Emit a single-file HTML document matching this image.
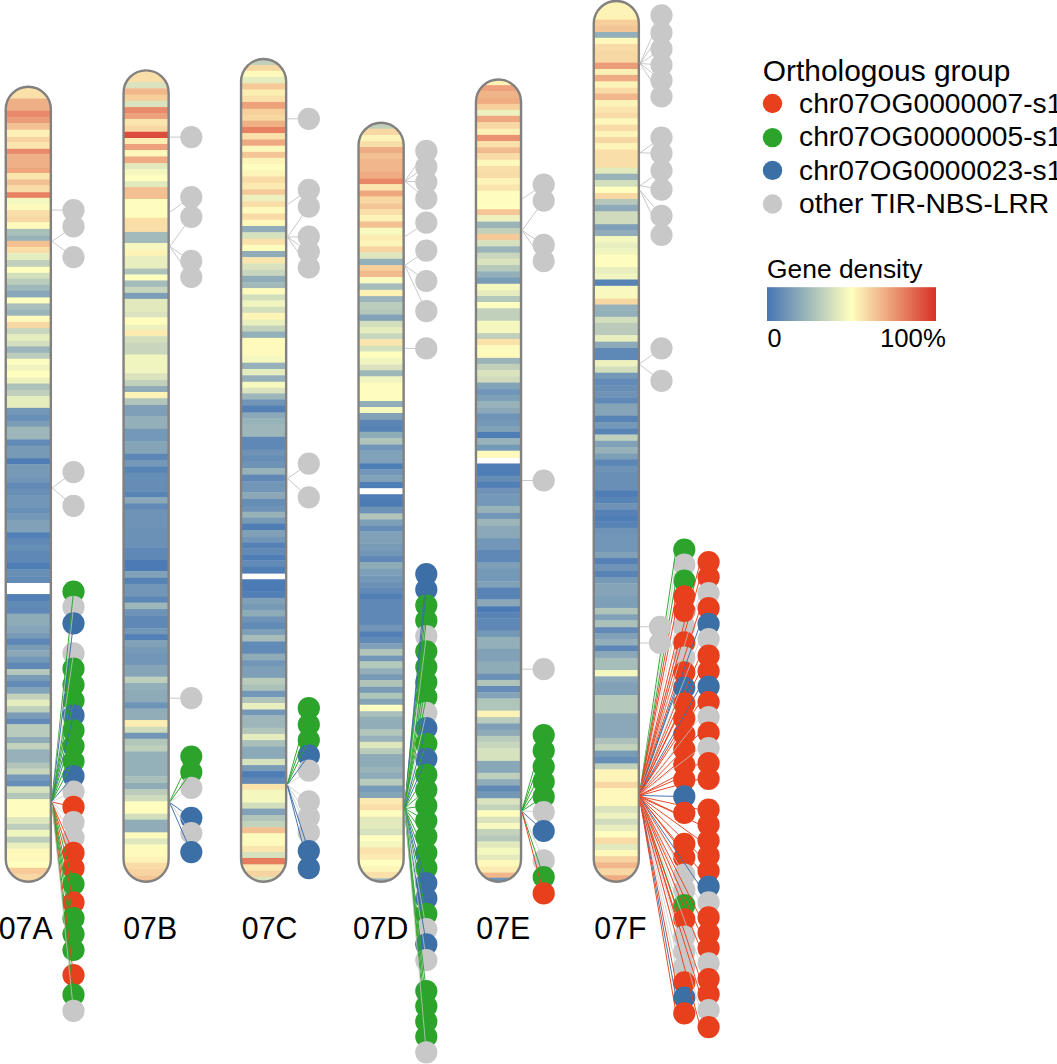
<!DOCTYPE html>
<html><head><meta charset="utf-8"><title>chr07 TIR-NBS-LRR ideogram</title>
<style>
html,body{margin:0;padding:0;background:#fff;}
body{width:1057px;height:1064px;overflow:hidden;position:relative;font-family:"Liberation Sans",sans-serif;}
svg text{font-family:"Liberation Sans",sans-serif;}
</style></head><body>
<svg width="1057" height="1064" viewBox="0 0 1057 1064" style="position:absolute;left:0;top:0">
<defs>
<clipPath id="cpA"><rect x="5.75" y="86.75" width="45.10" height="795.00" rx="22.55" ry="22.55"/></clipPath>
<clipPath id="cpB"><rect x="123.55" y="70.35" width="45.10" height="811.40" rx="22.55" ry="22.55"/></clipPath>
<clipPath id="cpC"><rect x="241.05" y="58.95" width="45.10" height="822.80" rx="22.55" ry="22.55"/></clipPath>
<clipPath id="cpD"><rect x="358.55" y="122.75" width="45.10" height="759.00" rx="22.55" ry="22.55"/></clipPath>
<clipPath id="cpE"><rect x="475.95" y="79.55" width="45.10" height="802.20" rx="22.55" ry="22.55"/></clipPath>
<clipPath id="cpF"><rect x="593.75" y="0.95" width="45.10" height="880.80" rx="22.55" ry="22.55"/></clipPath>
<linearGradient id="gd" x1="0" x2="1" y1="0" y2="0"><stop offset="0" stop-color="#4575b4"/><stop offset="0.5" stop-color="#ffffbf"/><stop offset="1" stop-color="#d73027"/></linearGradient>
</defs>
<g clip-path="url(#cpA)">
<rect x="4.8" y="84.75" width="47.1" height="14.19" fill="#f9e1a9"/>
<rect x="4.8" y="98.54" width="47.1" height="12.32" fill="#f0b085"/>
<rect x="4.8" y="110.46" width="47.1" height="7.21" fill="#e98b6a"/>
<rect x="4.8" y="117.27" width="47.1" height="6.36" fill="#ec9c76"/>
<rect x="4.8" y="123.23" width="47.1" height="6.87" fill="#f3c091"/>
<rect x="4.8" y="129.70" width="47.1" height="7.55" fill="#fcf0b4"/>
<rect x="4.8" y="136.85" width="47.1" height="5.51" fill="#f6d39f"/>
<rect x="4.8" y="141.96" width="47.1" height="7.21" fill="#fae6ad"/>
<rect x="4.8" y="148.77" width="47.1" height="5.85" fill="#e98b6a"/>
<rect x="4.8" y="154.22" width="47.1" height="13.68" fill="#f0b085"/>
<rect x="4.8" y="167.51" width="47.1" height="5.85" fill="#eea67d"/>
<rect x="4.8" y="172.96" width="47.1" height="6.87" fill="#fae6ad"/>
<rect x="4.8" y="179.43" width="47.1" height="6.36" fill="#f3c091"/>
<rect x="4.8" y="185.39" width="47.1" height="7.21" fill="#f8dba5"/>
<rect x="4.8" y="192.20" width="47.1" height="6.02" fill="#e78162"/>
<rect x="4.8" y="197.82" width="47.1" height="6.70" fill="#f4f7be"/>
<rect x="4.8" y="204.12" width="47.1" height="6.36" fill="#fefabb"/>
<rect x="4.8" y="210.08" width="47.1" height="7.21" fill="#f9dfa7"/>
<rect x="4.8" y="216.89" width="47.1" height="5.51" fill="#f7d7a2"/>
<rect x="4.8" y="222.00" width="47.1" height="0.95" fill="#fef8ba"/>
<rect x="4.8" y="222.55" width="47.1" height="6.70" fill="#fefabb"/>
<rect x="4.8" y="228.86" width="47.1" height="6.87" fill="#a9c0ba"/>
<rect x="4.8" y="235.33" width="47.1" height="5.85" fill="#97b2b9"/>
<rect x="4.8" y="240.78" width="47.1" height="6.53" fill="#f3c091"/>
<rect x="4.8" y="246.91" width="47.1" height="6.70" fill="#f9dfa7"/>
<rect x="4.8" y="253.21" width="47.1" height="7.21" fill="#e5ecbd"/>
<rect x="4.8" y="260.02" width="47.1" height="7.21" fill="#c0d0bb"/>
<rect x="4.8" y="266.83" width="47.1" height="6.36" fill="#ffffbf"/>
<rect x="4.8" y="272.79" width="47.1" height="6.36" fill="#d2debc"/>
<rect x="4.8" y="278.75" width="47.1" height="6.36" fill="#bbcdbb"/>
<rect x="4.8" y="284.71" width="47.1" height="6.36" fill="#9fb8b9"/>
<rect x="4.8" y="290.67" width="47.1" height="7.21" fill="#88a7b8"/>
<rect x="4.8" y="297.49" width="47.1" height="6.36" fill="#ffffbf"/>
<rect x="4.8" y="303.45" width="47.1" height="6.36" fill="#a9bfba"/>
<rect x="4.8" y="309.41" width="47.1" height="6.70" fill="#9bb4b9"/>
<rect x="4.8" y="315.71" width="47.1" height="6.53" fill="#fefabb"/>
<rect x="4.8" y="321.84" width="47.1" height="6.70" fill="#f7d7a2"/>
<rect x="4.8" y="328.14" width="47.1" height="6.36" fill="#c7d6bc"/>
<rect x="4.8" y="334.10" width="47.1" height="7.21" fill="#e5ecbd"/>
<rect x="4.8" y="340.91" width="47.1" height="5.85" fill="#d2debc"/>
<rect x="4.8" y="346.36" width="47.1" height="6.87" fill="#9bb4b9"/>
<rect x="4.8" y="352.83" width="47.1" height="6.36" fill="#bccdbb"/>
<rect x="4.8" y="358.79" width="47.1" height="6.36" fill="#fbfcbf"/>
<rect x="4.8" y="364.75" width="47.1" height="6.36" fill="#f0f4be"/>
<rect x="4.8" y="370.72" width="47.1" height="7.21" fill="#ffffbf"/>
<rect x="4.8" y="377.53" width="47.1" height="6.36" fill="#ecf1be"/>
<rect x="4.8" y="383.49" width="47.1" height="6.87" fill="#adc2ba"/>
<rect x="4.8" y="389.96" width="47.1" height="6.40" fill="#bfcfbb"/>
<rect x="4.8" y="395.96" width="47.1" height="12.32" fill="#e5ecbd"/>
<rect x="4.8" y="407.88" width="47.1" height="7.21" fill="#7297b7"/>
<rect x="4.8" y="414.69" width="47.1" height="6.36" fill="#688fb6"/>
<rect x="4.8" y="420.65" width="47.1" height="6.36" fill="#7a9cb7"/>
<rect x="4.8" y="426.61" width="47.1" height="13.17" fill="#9db6b9"/>
<rect x="4.8" y="439.39" width="47.1" height="6.70" fill="#628ab6"/>
<rect x="4.8" y="445.69" width="47.1" height="12.83" fill="#779ab7"/>
<rect x="4.8" y="458.12" width="47.1" height="6.36" fill="#4f7db5"/>
<rect x="4.8" y="464.08" width="47.1" height="13.17" fill="#779ab7"/>
<rect x="4.8" y="476.85" width="47.1" height="6.36" fill="#7196b7"/>
<rect x="4.8" y="482.81" width="47.1" height="6.36" fill="#628ab6"/>
<rect x="4.8" y="488.77" width="47.1" height="6.70" fill="#688fb6"/>
<rect x="4.8" y="495.07" width="47.1" height="12.83" fill="#7196b7"/>
<rect x="4.8" y="507.51" width="47.1" height="6.36" fill="#688fb6"/>
<rect x="4.8" y="513.47" width="47.1" height="6.70" fill="#7498b7"/>
<rect x="4.8" y="519.77" width="47.1" height="12.83" fill="#80a1b7"/>
<rect x="4.8" y="532.20" width="47.1" height="6.70" fill="#527fb5"/>
<rect x="4.8" y="538.50" width="47.1" height="6.53" fill="#5f88b6"/>
<rect x="4.8" y="544.63" width="47.1" height="6.70" fill="#688fb6"/>
<rect x="4.8" y="550.93" width="47.1" height="12.32" fill="#5f88b6"/>
<rect x="4.8" y="562.85" width="47.1" height="6.91" fill="#4f7db5"/>
<rect x="4.8" y="569.37" width="47.1" height="7.21" fill="#688fb6"/>
<rect x="4.8" y="576.18" width="47.1" height="7.21" fill="#628ab6"/>
<rect x="4.8" y="582.99" width="47.1" height="11.47" fill="#ffffff"/>
<rect x="4.8" y="594.06" width="47.1" height="7.21" fill="#527fb5"/>
<rect x="4.8" y="600.87" width="47.1" height="6.36" fill="#628ab6"/>
<rect x="4.8" y="606.83" width="47.1" height="7.21" fill="#5f88b6"/>
<rect x="4.8" y="613.64" width="47.1" height="12.32" fill="#8eabb8"/>
<rect x="4.8" y="625.57" width="47.1" height="7.21" fill="#85a4b8"/>
<rect x="4.8" y="632.38" width="47.1" height="6.70" fill="#779ab7"/>
<rect x="4.8" y="638.68" width="47.1" height="6.53" fill="#5c86b5"/>
<rect x="4.8" y="644.81" width="47.1" height="5.85" fill="#7a9cb7"/>
<rect x="4.8" y="650.26" width="47.1" height="6.87" fill="#8aa8b8"/>
<rect x="4.8" y="656.73" width="47.1" height="6.36" fill="#7498b7"/>
<rect x="4.8" y="662.69" width="47.1" height="6.70" fill="#5f88b6"/>
<rect x="4.8" y="668.99" width="47.1" height="6.36" fill="#b4c8bb"/>
<rect x="4.8" y="674.95" width="47.1" height="6.36" fill="#7a9cb7"/>
<rect x="4.8" y="680.91" width="47.1" height="6.87" fill="#628bb6"/>
<rect x="4.8" y="687.38" width="47.1" height="6.70" fill="#83a3b8"/>
<rect x="4.8" y="693.69" width="47.1" height="6.36" fill="#c2d2bb"/>
<rect x="4.8" y="699.65" width="47.1" height="6.87" fill="#e5ecbd"/>
<rect x="4.8" y="706.12" width="47.1" height="6.70" fill="#becfbb"/>
<rect x="4.8" y="712.42" width="47.1" height="6.36" fill="#7b9db7"/>
<rect x="4.8" y="718.38" width="47.1" height="6.28" fill="#618ab6"/>
<rect x="4.8" y="724.26" width="47.1" height="13.17" fill="#b9cbbb"/>
<rect x="4.8" y="737.03" width="47.1" height="6.36" fill="#8eabb8"/>
<rect x="4.8" y="742.99" width="47.1" height="6.70" fill="#c2d2bb"/>
<rect x="4.8" y="749.29" width="47.1" height="13.68" fill="#96b1b9"/>
<rect x="4.8" y="762.57" width="47.1" height="6.36" fill="#b0c4ba"/>
<rect x="4.8" y="768.54" width="47.1" height="6.36" fill="#c7d6bc"/>
<rect x="4.8" y="774.50" width="47.1" height="6.36" fill="#769ab7"/>
<rect x="4.8" y="780.46" width="47.1" height="6.36" fill="#668eb6"/>
<rect x="4.8" y="786.42" width="47.1" height="6.87" fill="#d6e1bd"/>
<rect x="4.8" y="792.89" width="47.1" height="6.70" fill="#b2c6ba"/>
<rect x="4.8" y="799.19" width="47.1" height="18.28" fill="#fffdbd"/>
<rect x="4.8" y="817.07" width="47.1" height="7.21" fill="#dee6bd"/>
<rect x="4.8" y="823.88" width="47.1" height="6.36" fill="#bccdbb"/>
<rect x="4.8" y="829.84" width="47.1" height="7.21" fill="#f0f4be"/>
<rect x="4.8" y="836.66" width="47.1" height="6.36" fill="#bccdbb"/>
<rect x="4.8" y="842.62" width="47.1" height="6.36" fill="#e9eebe"/>
<rect x="4.8" y="848.58" width="47.1" height="13.17" fill="#fef8ba"/>
<rect x="4.8" y="861.35" width="47.1" height="6.87" fill="#fffdbd"/>
<rect x="4.8" y="867.82" width="47.1" height="6.70" fill="#f5ca98"/>
<rect x="4.8" y="874.12" width="47.1" height="9.63" fill="#f7d7a2"/>
</g>
<rect x="5.75" y="86.75" width="45.10" height="795.00" rx="22.55" ry="22.55" fill="none" stroke="#828180" stroke-width="2.4"/>
<g clip-path="url(#cpB)">
<rect x="122.5" y="68.35" width="47.1" height="14.07" fill="#f9dfa7"/>
<rect x="122.5" y="82.02" width="47.1" height="6.70" fill="#dae3bd"/>
<rect x="122.5" y="88.32" width="47.1" height="6.70" fill="#f1b689"/>
<rect x="122.5" y="94.62" width="47.1" height="6.53" fill="#f6cf9b"/>
<rect x="122.5" y="100.75" width="47.1" height="6.70" fill="#dae3bd"/>
<rect x="122.5" y="107.05" width="47.1" height="6.36" fill="#e98b6a"/>
<rect x="122.5" y="113.01" width="47.1" height="6.36" fill="#eda27b"/>
<rect x="122.5" y="118.97" width="47.1" height="7.21" fill="#fae6ad"/>
<rect x="122.5" y="125.78" width="47.1" height="6.36" fill="#f7d7a2"/>
<rect x="122.5" y="131.74" width="47.1" height="6.70" fill="#dc4c3c"/>
<rect x="122.5" y="138.04" width="47.1" height="6.36" fill="#fceeb2"/>
<rect x="122.5" y="144.01" width="47.1" height="6.53" fill="#eda27b"/>
<rect x="122.5" y="150.14" width="47.1" height="6.70" fill="#fef8ba"/>
<rect x="122.5" y="156.44" width="47.1" height="7.21" fill="#efac82"/>
<rect x="122.5" y="163.25" width="47.1" height="6.36" fill="#e1e9bd"/>
<rect x="122.5" y="169.21" width="47.1" height="6.36" fill="#f4f7be"/>
<rect x="122.5" y="175.17" width="47.1" height="6.36" fill="#ffffbf"/>
<rect x="122.5" y="181.13" width="47.1" height="6.36" fill="#e1e9bd"/>
<rect x="122.5" y="187.09" width="47.1" height="12.32" fill="#f3c091"/>
<rect x="122.5" y="199.01" width="47.1" height="19.13" fill="#fffdbd"/>
<rect x="122.5" y="217.75" width="47.1" height="14.58" fill="#f9dfa7"/>
<rect x="122.5" y="231.92" width="47.1" height="11.47" fill="#a2baba"/>
<rect x="122.5" y="242.99" width="47.1" height="6.70" fill="#f4f7be"/>
<rect x="122.5" y="249.29" width="47.1" height="6.87" fill="#fdf3b6"/>
<rect x="122.5" y="255.76" width="47.1" height="13.17" fill="#e9eebe"/>
<rect x="122.5" y="268.54" width="47.1" height="6.36" fill="#adc2ba"/>
<rect x="122.5" y="274.50" width="47.1" height="6.36" fill="#ffffbf"/>
<rect x="122.5" y="280.46" width="47.1" height="6.70" fill="#a3bbba"/>
<rect x="122.5" y="286.76" width="47.1" height="6.53" fill="#c7d6bc"/>
<rect x="122.5" y="292.89" width="47.1" height="6.36" fill="#7d9eb7"/>
<rect x="122.5" y="298.85" width="47.1" height="13.51" fill="#e1e9bd"/>
<rect x="122.5" y="311.96" width="47.1" height="5.85" fill="#dae3bd"/>
<rect x="122.5" y="317.41" width="47.1" height="7.72" fill="#fffdbd"/>
<rect x="122.5" y="324.73" width="47.1" height="5.51" fill="#ecf1be"/>
<rect x="122.5" y="329.84" width="47.1" height="6.70" fill="#fbebb0"/>
<rect x="122.5" y="336.14" width="47.1" height="6.87" fill="#d2debc"/>
<rect x="122.5" y="342.62" width="47.1" height="12.32" fill="#c7d6bc"/>
<rect x="122.5" y="354.54" width="47.1" height="19.13" fill="#f0f4be"/>
<rect x="122.5" y="373.27" width="47.1" height="7.21" fill="#dae3bd"/>
<rect x="122.5" y="380.08" width="47.1" height="6.36" fill="#c0d0bb"/>
<rect x="122.5" y="386.04" width="47.1" height="6.36" fill="#8facb8"/>
<rect x="122.5" y="392.00" width="47.1" height="0.44" fill="#fefabb"/>
<rect x="122.5" y="392.04" width="47.1" height="6.53" fill="#fdf3b6"/>
<rect x="122.5" y="398.17" width="47.1" height="7.21" fill="#b1c5ba"/>
<rect x="122.5" y="404.99" width="47.1" height="11.81" fill="#7e9fb7"/>
<rect x="122.5" y="416.40" width="47.1" height="12.83" fill="#93afb9"/>
<rect x="122.5" y="428.83" width="47.1" height="12.66" fill="#7498b7"/>
<rect x="122.5" y="441.09" width="47.1" height="13.17" fill="#85a4b8"/>
<rect x="122.5" y="453.86" width="47.1" height="6.36" fill="#5c86b5"/>
<rect x="122.5" y="459.82" width="47.1" height="6.87" fill="#7498b7"/>
<rect x="122.5" y="466.29" width="47.1" height="6.70" fill="#5883b5"/>
<rect x="122.5" y="472.60" width="47.1" height="19.13" fill="#658db6"/>
<rect x="122.5" y="491.33" width="47.1" height="6.36" fill="#5883b5"/>
<rect x="122.5" y="497.29" width="47.1" height="6.36" fill="#8aa8b8"/>
<rect x="122.5" y="503.25" width="47.1" height="6.70" fill="#628ab6"/>
<rect x="122.5" y="509.55" width="47.1" height="19.64" fill="#6e93b6"/>
<rect x="122.5" y="528.79" width="47.1" height="19.13" fill="#6b91b6"/>
<rect x="122.5" y="547.53" width="47.1" height="12.83" fill="#5f88b6"/>
<rect x="122.5" y="559.96" width="47.1" height="11.51" fill="#4c7ab4"/>
<rect x="122.5" y="571.07" width="47.1" height="7.21" fill="#80a1b7"/>
<rect x="122.5" y="577.88" width="47.1" height="6.36" fill="#5581b5"/>
<rect x="122.5" y="583.84" width="47.1" height="13.17" fill="#7196b7"/>
<rect x="122.5" y="596.61" width="47.1" height="6.36" fill="#5c86b5"/>
<rect x="122.5" y="602.57" width="47.1" height="6.87" fill="#9db6b9"/>
<rect x="122.5" y="609.05" width="47.1" height="6.70" fill="#6e93b6"/>
<rect x="122.5" y="615.35" width="47.1" height="13.17" fill="#5f88b6"/>
<rect x="122.5" y="628.12" width="47.1" height="6.36" fill="#7498b7"/>
<rect x="122.5" y="634.08" width="47.1" height="6.36" fill="#527fb5"/>
<rect x="122.5" y="640.04" width="47.1" height="7.21" fill="#80a1b7"/>
<rect x="122.5" y="646.85" width="47.1" height="6.36" fill="#779ab7"/>
<rect x="122.5" y="652.81" width="47.1" height="12.32" fill="#7196b7"/>
<rect x="122.5" y="664.73" width="47.1" height="12.32" fill="#85a4b8"/>
<rect x="122.5" y="676.66" width="47.1" height="6.70" fill="#becfbb"/>
<rect x="122.5" y="682.96" width="47.1" height="6.87" fill="#93afb9"/>
<rect x="122.5" y="689.43" width="47.1" height="13.17" fill="#8daab8"/>
<rect x="122.5" y="702.20" width="47.1" height="6.70" fill="#6d93b6"/>
<rect x="122.5" y="708.50" width="47.1" height="11.98" fill="#90adb8"/>
<rect x="122.5" y="720.08" width="47.1" height="7.13" fill="#fceeb2"/>
<rect x="122.5" y="726.81" width="47.1" height="6.36" fill="#cfdbbc"/>
<rect x="122.5" y="732.77" width="47.1" height="6.36" fill="#7196b7"/>
<rect x="122.5" y="738.73" width="47.1" height="7.21" fill="#b2c6ba"/>
<rect x="122.5" y="745.54" width="47.1" height="6.36" fill="#becfbb"/>
<rect x="122.5" y="751.51" width="47.1" height="25.09" fill="#94b0b9"/>
<rect x="122.5" y="776.20" width="47.1" height="7.21" fill="#a8bfba"/>
<rect x="122.5" y="783.01" width="47.1" height="6.36" fill="#8eabb8"/>
<rect x="122.5" y="788.97" width="47.1" height="6.36" fill="#bbccbb"/>
<rect x="122.5" y="794.93" width="47.1" height="6.87" fill="#cfdbbc"/>
<rect x="122.5" y="801.40" width="47.1" height="12.66" fill="#fffdbd"/>
<rect x="122.5" y="813.66" width="47.1" height="6.36" fill="#d2debc"/>
<rect x="122.5" y="819.63" width="47.1" height="13.17" fill="#8facb8"/>
<rect x="122.5" y="832.40" width="47.1" height="6.36" fill="#fefabb"/>
<rect x="122.5" y="838.36" width="47.1" height="6.36" fill="#dee6bd"/>
<rect x="122.5" y="844.32" width="47.1" height="12.32" fill="#fefabb"/>
<rect x="122.5" y="856.24" width="47.1" height="6.87" fill="#fdf3b6"/>
<rect x="122.5" y="862.71" width="47.1" height="6.70" fill="#f8dba5"/>
<rect x="122.5" y="869.01" width="47.1" height="7.21" fill="#f6d39f"/>
<rect x="122.5" y="875.82" width="47.1" height="7.93" fill="#f4c595"/>
</g>
<rect x="123.55" y="70.35" width="45.10" height="811.40" rx="22.55" ry="22.55" fill="none" stroke="#828180" stroke-width="2.4"/>
<g clip-path="url(#cpC)">
<rect x="240.1" y="56.95" width="47.1" height="8.44" fill="#c0d0bb"/>
<rect x="240.1" y="64.99" width="47.1" height="6.19" fill="#f7d7a2"/>
<rect x="240.1" y="70.78" width="47.1" height="6.53" fill="#fefabb"/>
<rect x="240.1" y="76.91" width="47.1" height="6.70" fill="#e5ecbd"/>
<rect x="240.1" y="83.21" width="47.1" height="6.70" fill="#f5ca98"/>
<rect x="240.1" y="89.51" width="47.1" height="6.87" fill="#fceeb2"/>
<rect x="240.1" y="95.98" width="47.1" height="6.36" fill="#f9e1a9"/>
<rect x="240.1" y="101.94" width="47.1" height="7.21" fill="#eda27b"/>
<rect x="240.1" y="108.75" width="47.1" height="6.36" fill="#f6cf9b"/>
<rect x="240.1" y="114.71" width="47.1" height="6.36" fill="#f7d7a2"/>
<rect x="240.1" y="120.67" width="47.1" height="6.70" fill="#f0b085"/>
<rect x="240.1" y="126.98" width="47.1" height="6.53" fill="#e78162"/>
<rect x="240.1" y="133.11" width="47.1" height="6.70" fill="#f9e1a9"/>
<rect x="240.1" y="139.41" width="47.1" height="6.70" fill="#eea980"/>
<rect x="240.1" y="145.71" width="47.1" height="6.53" fill="#fef8ba"/>
<rect x="240.1" y="151.84" width="47.1" height="6.36" fill="#f4c595"/>
<rect x="240.1" y="157.80" width="47.1" height="6.70" fill="#fdf5b8"/>
<rect x="240.1" y="164.10" width="47.1" height="6.36" fill="#fffdbd"/>
<rect x="240.1" y="170.06" width="47.1" height="6.70" fill="#fdf5b8"/>
<rect x="240.1" y="176.36" width="47.1" height="6.87" fill="#f8dba5"/>
<rect x="240.1" y="182.83" width="47.1" height="6.87" fill="#fbebb0"/>
<rect x="240.1" y="189.31" width="47.1" height="5.85" fill="#f5ca98"/>
<rect x="240.1" y="194.75" width="47.1" height="6.87" fill="#ecf1be"/>
<rect x="240.1" y="201.23" width="47.1" height="6.19" fill="#f9dfa7"/>
<rect x="240.1" y="207.02" width="47.1" height="6.87" fill="#fefabb"/>
<rect x="240.1" y="213.49" width="47.1" height="6.70" fill="#f8dba5"/>
<rect x="240.1" y="219.79" width="47.1" height="6.57" fill="#fef8ba"/>
<rect x="240.1" y="225.96" width="47.1" height="6.70" fill="#8facb8"/>
<rect x="240.1" y="232.26" width="47.1" height="6.87" fill="#d6e1bd"/>
<rect x="240.1" y="238.73" width="47.1" height="6.36" fill="#f9e1a9"/>
<rect x="240.1" y="244.69" width="47.1" height="6.70" fill="#fffdbd"/>
<rect x="240.1" y="250.99" width="47.1" height="6.53" fill="#8facb8"/>
<rect x="240.1" y="257.13" width="47.1" height="6.70" fill="#fae6ad"/>
<rect x="240.1" y="263.43" width="47.1" height="6.70" fill="#dae3bd"/>
<rect x="240.1" y="269.73" width="47.1" height="6.53" fill="#c7d6bc"/>
<rect x="240.1" y="275.86" width="47.1" height="6.70" fill="#8facb8"/>
<rect x="240.1" y="282.16" width="47.1" height="6.36" fill="#a1b9b9"/>
<rect x="240.1" y="288.12" width="47.1" height="6.70" fill="#fefabb"/>
<rect x="240.1" y="294.42" width="47.1" height="6.36" fill="#d2debc"/>
<rect x="240.1" y="300.38" width="47.1" height="6.87" fill="#f0f4be"/>
<rect x="240.1" y="306.85" width="47.1" height="6.36" fill="#d2debc"/>
<rect x="240.1" y="312.81" width="47.1" height="7.21" fill="#fdf5b8"/>
<rect x="240.1" y="319.63" width="47.1" height="6.36" fill="#e9eebe"/>
<rect x="240.1" y="325.59" width="47.1" height="6.36" fill="#c3d3bb"/>
<rect x="240.1" y="331.55" width="47.1" height="6.70" fill="#93afb9"/>
<rect x="240.1" y="337.85" width="47.1" height="18.79" fill="#fefabb"/>
<rect x="240.1" y="356.24" width="47.1" height="6.87" fill="#f4f7be"/>
<rect x="240.1" y="362.71" width="47.1" height="6.70" fill="#96b1b9"/>
<rect x="240.1" y="369.01" width="47.1" height="6.70" fill="#e5ecbd"/>
<rect x="240.1" y="375.31" width="47.1" height="6.87" fill="#95b0b9"/>
<rect x="240.1" y="381.78" width="47.1" height="6.36" fill="#f8f9bf"/>
<rect x="240.1" y="387.75" width="47.1" height="6.06" fill="#dae3bd"/>
<rect x="240.1" y="393.41" width="47.1" height="6.36" fill="#9db6b9"/>
<rect x="240.1" y="399.37" width="47.1" height="6.70" fill="#7095b7"/>
<rect x="240.1" y="405.67" width="47.1" height="7.21" fill="#537fb5"/>
<rect x="240.1" y="412.48" width="47.1" height="6.02" fill="#8aa8b8"/>
<rect x="240.1" y="418.10" width="47.1" height="6.36" fill="#98b2b9"/>
<rect x="240.1" y="424.06" width="47.1" height="13.17" fill="#9db6b9"/>
<rect x="240.1" y="436.83" width="47.1" height="13.17" fill="#5f88b6"/>
<rect x="240.1" y="449.60" width="47.1" height="6.36" fill="#6e93b6"/>
<rect x="240.1" y="455.57" width="47.1" height="6.36" fill="#658db6"/>
<rect x="240.1" y="461.53" width="47.1" height="6.87" fill="#6e93b6"/>
<rect x="240.1" y="468.00" width="47.1" height="7.04" fill="#98b2b9"/>
<rect x="240.1" y="474.64" width="47.1" height="6.87" fill="#5f88b6"/>
<rect x="240.1" y="481.11" width="47.1" height="11.47" fill="#7196b7"/>
<rect x="240.1" y="492.18" width="47.1" height="7.21" fill="#8aa8b8"/>
<rect x="240.1" y="498.99" width="47.1" height="7.21" fill="#658db6"/>
<rect x="240.1" y="505.80" width="47.1" height="6.36" fill="#6e93b6"/>
<rect x="240.1" y="511.76" width="47.1" height="6.36" fill="#98b2b9"/>
<rect x="240.1" y="517.72" width="47.1" height="6.36" fill="#779ab7"/>
<rect x="240.1" y="523.69" width="47.1" height="6.70" fill="#4f7db5"/>
<rect x="240.1" y="529.99" width="47.1" height="6.87" fill="#80a1b7"/>
<rect x="240.1" y="536.46" width="47.1" height="6.36" fill="#7196b7"/>
<rect x="240.1" y="542.42" width="47.1" height="6.36" fill="#5581b5"/>
<rect x="240.1" y="548.38" width="47.1" height="6.36" fill="#628ab6"/>
<rect x="240.1" y="554.34" width="47.1" height="6.36" fill="#4f7db5"/>
<rect x="240.1" y="560.30" width="47.1" height="6.91" fill="#628ab6"/>
<rect x="240.1" y="566.81" width="47.1" height="7.21" fill="#4f7db5"/>
<rect x="240.1" y="573.62" width="47.1" height="6.02" fill="#ffffff"/>
<rect x="240.1" y="579.24" width="47.1" height="12.66" fill="#4c7ab4"/>
<rect x="240.1" y="591.51" width="47.1" height="6.70" fill="#527fb5"/>
<rect x="240.1" y="597.81" width="47.1" height="6.53" fill="#80a1b7"/>
<rect x="240.1" y="603.94" width="47.1" height="6.36" fill="#779ab7"/>
<rect x="240.1" y="609.90" width="47.1" height="6.70" fill="#8eabb8"/>
<rect x="240.1" y="616.20" width="47.1" height="6.87" fill="#6e93b6"/>
<rect x="240.1" y="622.67" width="47.1" height="6.70" fill="#628ab6"/>
<rect x="240.1" y="628.97" width="47.1" height="6.36" fill="#7d9fb7"/>
<rect x="240.1" y="634.93" width="47.1" height="6.87" fill="#a6bdba"/>
<rect x="240.1" y="641.40" width="47.1" height="12.66" fill="#628ab6"/>
<rect x="240.1" y="653.66" width="47.1" height="6.87" fill="#8eabb8"/>
<rect x="240.1" y="660.14" width="47.1" height="6.19" fill="#7196b7"/>
<rect x="240.1" y="665.93" width="47.1" height="12.32" fill="#7d9fb7"/>
<rect x="240.1" y="677.85" width="47.1" height="7.21" fill="#b9cbbb"/>
<rect x="240.1" y="684.66" width="47.1" height="6.53" fill="#abc1ba"/>
<rect x="240.1" y="690.79" width="47.1" height="6.70" fill="#7397b7"/>
<rect x="240.1" y="697.09" width="47.1" height="6.36" fill="#b0c4ba"/>
<rect x="240.1" y="703.05" width="47.1" height="6.87" fill="#e9eebe"/>
<rect x="240.1" y="709.52" width="47.1" height="6.19" fill="#7297b7"/>
<rect x="240.1" y="715.31" width="47.1" height="12.75" fill="#9cb6b9"/>
<rect x="240.1" y="727.66" width="47.1" height="6.70" fill="#b1c5ba"/>
<rect x="240.1" y="733.96" width="47.1" height="6.53" fill="#e5ecbd"/>
<rect x="240.1" y="740.10" width="47.1" height="6.70" fill="#a8bfba"/>
<rect x="240.1" y="746.40" width="47.1" height="12.83" fill="#8ba9b8"/>
<rect x="240.1" y="758.83" width="47.1" height="6.70" fill="#d6e1bd"/>
<rect x="240.1" y="765.13" width="47.1" height="6.36" fill="#799bb7"/>
<rect x="240.1" y="771.09" width="47.1" height="6.87" fill="#4e7cb5"/>
<rect x="240.1" y="777.56" width="47.1" height="6.70" fill="#6089b6"/>
<rect x="240.1" y="783.86" width="47.1" height="6.36" fill="#fae4ab"/>
<rect x="240.1" y="789.82" width="47.1" height="13.17" fill="#f4f7be"/>
<rect x="240.1" y="802.60" width="47.1" height="6.36" fill="#d2debc"/>
<rect x="240.1" y="808.56" width="47.1" height="6.87" fill="#81a1b8"/>
<rect x="240.1" y="815.03" width="47.1" height="6.70" fill="#b1c5ba"/>
<rect x="240.1" y="821.33" width="47.1" height="6.36" fill="#c3d3bb"/>
<rect x="240.1" y="827.29" width="47.1" height="6.36" fill="#f3c091"/>
<rect x="240.1" y="833.25" width="47.1" height="13.17" fill="#fefabb"/>
<rect x="240.1" y="846.02" width="47.1" height="6.36" fill="#fae6ad"/>
<rect x="240.1" y="851.98" width="47.1" height="6.36" fill="#d6e1bd"/>
<rect x="240.1" y="857.94" width="47.1" height="6.87" fill="#e67b5e"/>
<rect x="240.1" y="864.41" width="47.1" height="6.70" fill="#fbe9af"/>
<rect x="240.1" y="870.72" width="47.1" height="6.36" fill="#f6d39f"/>
<rect x="240.1" y="876.68" width="47.1" height="7.07" fill="#dae3bd"/>
</g>
<rect x="241.05" y="58.95" width="45.10" height="822.80" rx="22.55" ry="22.55" fill="none" stroke="#828180" stroke-width="2.4"/>
<g clip-path="url(#cpD)">
<rect x="357.6" y="120.75" width="47.1" height="8.33" fill="#c0d0bb"/>
<rect x="357.6" y="128.68" width="47.1" height="6.87" fill="#f7d7a2"/>
<rect x="357.6" y="135.15" width="47.1" height="6.36" fill="#fdf5b8"/>
<rect x="357.6" y="141.11" width="47.1" height="6.36" fill="#f9dfa7"/>
<rect x="357.6" y="147.07" width="47.1" height="6.36" fill="#efac82"/>
<rect x="357.6" y="153.03" width="47.1" height="6.36" fill="#f3c091"/>
<rect x="357.6" y="158.99" width="47.1" height="13.17" fill="#f1b689"/>
<rect x="357.6" y="171.76" width="47.1" height="7.21" fill="#efac82"/>
<rect x="357.6" y="178.58" width="47.1" height="6.02" fill="#e88666"/>
<rect x="357.6" y="184.20" width="47.1" height="6.70" fill="#fae6ad"/>
<rect x="357.6" y="190.50" width="47.1" height="6.36" fill="#eea67d"/>
<rect x="357.6" y="196.46" width="47.1" height="7.21" fill="#f7d7a2"/>
<rect x="357.6" y="203.27" width="47.1" height="6.36" fill="#f4c595"/>
<rect x="357.6" y="209.23" width="47.1" height="6.36" fill="#f9dfa7"/>
<rect x="357.6" y="215.19" width="47.1" height="6.70" fill="#fdf3b6"/>
<rect x="357.6" y="221.49" width="47.1" height="0.61" fill="#f6d39f"/>
<rect x="357.6" y="221.70" width="47.1" height="6.36" fill="#f3c091"/>
<rect x="357.6" y="227.66" width="47.1" height="7.21" fill="#f8f9bf"/>
<rect x="357.6" y="234.48" width="47.1" height="6.36" fill="#fceeb2"/>
<rect x="357.6" y="240.44" width="47.1" height="6.36" fill="#fdf5b8"/>
<rect x="357.6" y="246.40" width="47.1" height="6.36" fill="#f6d39f"/>
<rect x="357.6" y="252.36" width="47.1" height="6.87" fill="#dee6bd"/>
<rect x="357.6" y="258.83" width="47.1" height="6.70" fill="#93afb9"/>
<rect x="357.6" y="265.13" width="47.1" height="6.02" fill="#f6cf9b"/>
<rect x="357.6" y="270.75" width="47.1" height="6.70" fill="#f2bb8d"/>
<rect x="357.6" y="277.05" width="47.1" height="6.70" fill="#f8f9bf"/>
<rect x="357.6" y="283.35" width="47.1" height="6.87" fill="#a6bdba"/>
<rect x="357.6" y="289.82" width="47.1" height="6.70" fill="#fcf0b4"/>
<rect x="357.6" y="296.12" width="47.1" height="6.53" fill="#9bb4b9"/>
<rect x="357.6" y="302.25" width="47.1" height="6.70" fill="#baccbb"/>
<rect x="357.6" y="308.56" width="47.1" height="6.36" fill="#b3c7bb"/>
<rect x="357.6" y="314.52" width="47.1" height="6.70" fill="#82a2b8"/>
<rect x="357.6" y="320.82" width="47.1" height="6.87" fill="#d2debc"/>
<rect x="357.6" y="327.29" width="47.1" height="6.36" fill="#e5ecbd"/>
<rect x="357.6" y="333.25" width="47.1" height="6.36" fill="#c7d6bc"/>
<rect x="357.6" y="339.21" width="47.1" height="6.87" fill="#fae6ad"/>
<rect x="357.6" y="345.68" width="47.1" height="6.19" fill="#d6e1bd"/>
<rect x="357.6" y="351.47" width="47.1" height="6.87" fill="#fffdbd"/>
<rect x="357.6" y="357.94" width="47.1" height="6.87" fill="#f0f4be"/>
<rect x="357.6" y="364.41" width="47.1" height="6.19" fill="#dae3bd"/>
<rect x="357.6" y="370.20" width="47.1" height="6.53" fill="#9eb7b9"/>
<rect x="357.6" y="376.34" width="47.1" height="6.70" fill="#f0f4be"/>
<rect x="357.6" y="382.64" width="47.1" height="18.83" fill="#fffdbd"/>
<rect x="357.6" y="401.07" width="47.1" height="6.36" fill="#91adb8"/>
<rect x="357.6" y="407.03" width="47.1" height="6.36" fill="#f8f9bf"/>
<rect x="357.6" y="412.99" width="47.1" height="7.21" fill="#82a2b8"/>
<rect x="357.6" y="419.80" width="47.1" height="6.36" fill="#5c86b5"/>
<rect x="357.6" y="425.76" width="47.1" height="6.36" fill="#5581b5"/>
<rect x="357.6" y="431.72" width="47.1" height="6.87" fill="#8eabb8"/>
<rect x="357.6" y="438.19" width="47.1" height="6.70" fill="#b0c4ba"/>
<rect x="357.6" y="444.50" width="47.1" height="6.36" fill="#7196b7"/>
<rect x="357.6" y="450.46" width="47.1" height="13.17" fill="#80a1b7"/>
<rect x="357.6" y="463.23" width="47.1" height="6.36" fill="#4f7db5"/>
<rect x="357.6" y="469.19" width="47.1" height="6.36" fill="#7196b7"/>
<rect x="357.6" y="475.15" width="47.1" height="7.21" fill="#80a1b7"/>
<rect x="357.6" y="481.96" width="47.1" height="6.70" fill="#4f7db5"/>
<rect x="357.6" y="488.26" width="47.1" height="6.36" fill="#ffffff"/>
<rect x="357.6" y="494.22" width="47.1" height="6.87" fill="#4f7db5"/>
<rect x="357.6" y="500.69" width="47.1" height="6.36" fill="#4c7ab4"/>
<rect x="357.6" y="506.66" width="47.1" height="7.21" fill="#6e93b6"/>
<rect x="357.6" y="513.47" width="47.1" height="6.36" fill="#b0c4ba"/>
<rect x="357.6" y="519.43" width="47.1" height="6.36" fill="#7d9fb7"/>
<rect x="357.6" y="525.39" width="47.1" height="6.36" fill="#658db6"/>
<rect x="357.6" y="531.35" width="47.1" height="12.32" fill="#80a1b7"/>
<rect x="357.6" y="543.27" width="47.1" height="7.21" fill="#779ab7"/>
<rect x="357.6" y="550.08" width="47.1" height="6.36" fill="#7196b7"/>
<rect x="357.6" y="556.04" width="47.1" height="6.36" fill="#5f88b6"/>
<rect x="357.6" y="562.00" width="47.1" height="0.44" fill="#80a1b7"/>
<rect x="357.6" y="562.04" width="47.1" height="6.87" fill="#8eabb8"/>
<rect x="357.6" y="568.51" width="47.1" height="7.21" fill="#7d9fb7"/>
<rect x="357.6" y="575.33" width="47.1" height="6.36" fill="#7498b7"/>
<rect x="357.6" y="581.29" width="47.1" height="6.36" fill="#6b91b6"/>
<rect x="357.6" y="587.25" width="47.1" height="6.87" fill="#628ab6"/>
<rect x="357.6" y="593.72" width="47.1" height="6.19" fill="#527fb5"/>
<rect x="357.6" y="599.51" width="47.1" height="25.60" fill="#5f88b6"/>
<rect x="357.6" y="624.71" width="47.1" height="6.87" fill="#7196b7"/>
<rect x="357.6" y="631.19" width="47.1" height="6.19" fill="#527fb5"/>
<rect x="357.6" y="636.98" width="47.1" height="6.53" fill="#628ab6"/>
<rect x="357.6" y="643.11" width="47.1" height="6.19" fill="#7d9fb7"/>
<rect x="357.6" y="648.90" width="47.1" height="7.21" fill="#b0c4ba"/>
<rect x="357.6" y="655.71" width="47.1" height="6.02" fill="#7196b7"/>
<rect x="357.6" y="661.33" width="47.1" height="7.21" fill="#b4c8bb"/>
<rect x="357.6" y="668.14" width="47.1" height="6.36" fill="#93afb9"/>
<rect x="357.6" y="674.10" width="47.1" height="6.36" fill="#779ab7"/>
<rect x="357.6" y="680.06" width="47.1" height="7.21" fill="#b0c4ba"/>
<rect x="357.6" y="686.87" width="47.1" height="6.36" fill="#7a9cb7"/>
<rect x="357.6" y="692.83" width="47.1" height="6.36" fill="#b0c5ba"/>
<rect x="357.6" y="698.79" width="47.1" height="6.36" fill="#85a4b8"/>
<rect x="357.6" y="704.75" width="47.1" height="6.87" fill="#ffffbf"/>
<rect x="357.6" y="711.23" width="47.1" height="5.85" fill="#a8bfba"/>
<rect x="357.6" y="716.68" width="47.1" height="13.09" fill="#90adb8"/>
<rect x="357.6" y="729.37" width="47.1" height="6.70" fill="#b2c6ba"/>
<rect x="357.6" y="735.67" width="47.1" height="6.53" fill="#96b1b9"/>
<rect x="357.6" y="741.80" width="47.1" height="6.70" fill="#dee6bd"/>
<rect x="357.6" y="748.10" width="47.1" height="6.36" fill="#b9cbbb"/>
<rect x="357.6" y="754.06" width="47.1" height="13.17" fill="#8eabb8"/>
<rect x="357.6" y="766.83" width="47.1" height="6.36" fill="#99b4b9"/>
<rect x="357.6" y="772.79" width="47.1" height="6.36" fill="#8eabb8"/>
<rect x="357.6" y="778.75" width="47.1" height="7.21" fill="#b9cbbb"/>
<rect x="357.6" y="785.57" width="47.1" height="6.70" fill="#769ab7"/>
<rect x="357.6" y="791.87" width="47.1" height="6.53" fill="#84a4b8"/>
<rect x="357.6" y="798.00" width="47.1" height="6.70" fill="#fbe9af"/>
<rect x="357.6" y="804.30" width="47.1" height="6.36" fill="#f9dfa7"/>
<rect x="357.6" y="810.26" width="47.1" height="6.87" fill="#fffdbd"/>
<rect x="357.6" y="816.73" width="47.1" height="12.66" fill="#e1e9bd"/>
<rect x="357.6" y="828.99" width="47.1" height="6.70" fill="#d6e1bd"/>
<rect x="357.6" y="835.29" width="47.1" height="6.36" fill="#ffffbf"/>
<rect x="357.6" y="841.25" width="47.1" height="6.53" fill="#f4f7be"/>
<rect x="357.6" y="847.38" width="47.1" height="6.70" fill="#f9e1a9"/>
<rect x="357.6" y="853.69" width="47.1" height="6.36" fill="#fbebb0"/>
<rect x="357.6" y="859.65" width="47.1" height="6.87" fill="#ffffbf"/>
<rect x="357.6" y="866.12" width="47.1" height="6.19" fill="#fdf5b8"/>
<rect x="357.6" y="871.91" width="47.1" height="6.87" fill="#f9e1a9"/>
<rect x="357.6" y="878.38" width="47.1" height="5.37" fill="#9bb4b9"/>
</g>
<rect x="358.55" y="122.75" width="45.10" height="759.00" rx="22.55" ry="22.55" fill="none" stroke="#828180" stroke-width="2.4"/>
<g clip-path="url(#cpE)">
<rect x="474.9" y="77.55" width="47.1" height="8.00" fill="#fdf3b6"/>
<rect x="474.9" y="85.15" width="47.1" height="6.36" fill="#eda27b"/>
<rect x="474.9" y="91.11" width="47.1" height="7.21" fill="#f0b387"/>
<rect x="474.9" y="97.92" width="47.1" height="6.36" fill="#efac82"/>
<rect x="474.9" y="103.88" width="47.1" height="6.36" fill="#f6cf9b"/>
<rect x="474.9" y="109.84" width="47.1" height="6.36" fill="#ecf1be"/>
<rect x="474.9" y="115.80" width="47.1" height="6.87" fill="#eea980"/>
<rect x="474.9" y="122.28" width="47.1" height="6.70" fill="#f7d7a2"/>
<rect x="474.9" y="128.58" width="47.1" height="6.70" fill="#fcf0b4"/>
<rect x="474.9" y="134.88" width="47.1" height="6.53" fill="#ea926f"/>
<rect x="474.9" y="141.01" width="47.1" height="6.70" fill="#f9e1a9"/>
<rect x="474.9" y="147.31" width="47.1" height="6.36" fill="#f2bb8d"/>
<rect x="474.9" y="153.27" width="47.1" height="6.87" fill="#f8dba5"/>
<rect x="474.9" y="159.74" width="47.1" height="6.70" fill="#fef8ba"/>
<rect x="474.9" y="166.04" width="47.1" height="6.06" fill="#f9dfa7"/>
<rect x="474.9" y="171.70" width="47.1" height="6.87" fill="#f8dba5"/>
<rect x="474.9" y="178.17" width="47.1" height="6.70" fill="#fdf3b6"/>
<rect x="474.9" y="184.48" width="47.1" height="6.70" fill="#fae6ad"/>
<rect x="474.9" y="190.78" width="47.1" height="12.83" fill="#fffdbd"/>
<rect x="474.9" y="203.21" width="47.1" height="6.36" fill="#ffffbf"/>
<rect x="474.9" y="209.17" width="47.1" height="6.36" fill="#f4c595"/>
<rect x="474.9" y="215.13" width="47.1" height="6.87" fill="#ecf1be"/>
<rect x="474.9" y="221.60" width="47.1" height="6.70" fill="#9bb4b9"/>
<rect x="474.9" y="227.90" width="47.1" height="6.36" fill="#c0d0bb"/>
<rect x="474.9" y="233.86" width="47.1" height="6.70" fill="#f5ca98"/>
<rect x="474.9" y="240.16" width="47.1" height="6.53" fill="#d6e1bd"/>
<rect x="474.9" y="246.29" width="47.1" height="6.70" fill="#9bb4b9"/>
<rect x="474.9" y="252.60" width="47.1" height="6.36" fill="#c7d6bc"/>
<rect x="474.9" y="258.56" width="47.1" height="6.87" fill="#dae3bd"/>
<rect x="474.9" y="265.03" width="47.1" height="6.70" fill="#b6c9bb"/>
<rect x="474.9" y="271.33" width="47.1" height="6.36" fill="#93afb9"/>
<rect x="474.9" y="277.29" width="47.1" height="6.87" fill="#799cb7"/>
<rect x="474.9" y="283.76" width="47.1" height="6.70" fill="#f4f7be"/>
<rect x="474.9" y="290.06" width="47.1" height="6.36" fill="#e5ecbd"/>
<rect x="474.9" y="296.02" width="47.1" height="6.36" fill="#b4c8bb"/>
<rect x="474.9" y="301.98" width="47.1" height="6.70" fill="#ffffbf"/>
<rect x="474.9" y="308.28" width="47.1" height="12.83" fill="#c0d0bb"/>
<rect x="474.9" y="320.72" width="47.1" height="12.83" fill="#f4f7be"/>
<rect x="474.9" y="333.15" width="47.1" height="6.19" fill="#c0d0bb"/>
<rect x="474.9" y="338.94" width="47.1" height="6.57" fill="#f9e1a9"/>
<rect x="474.9" y="345.11" width="47.1" height="13.17" fill="#fefabb"/>
<rect x="474.9" y="357.88" width="47.1" height="6.36" fill="#9bb4b9"/>
<rect x="474.9" y="363.84" width="47.1" height="6.70" fill="#c0d0bb"/>
<rect x="474.9" y="370.14" width="47.1" height="6.53" fill="#dae3bd"/>
<rect x="474.9" y="376.27" width="47.1" height="6.70" fill="#cfdbbc"/>
<rect x="474.9" y="382.57" width="47.1" height="6.87" fill="#83a3b8"/>
<rect x="474.9" y="389.05" width="47.1" height="6.19" fill="#6f95b7"/>
<rect x="474.9" y="394.84" width="47.1" height="6.53" fill="#7d9fb7"/>
<rect x="474.9" y="400.97" width="47.1" height="6.70" fill="#98b2b9"/>
<rect x="474.9" y="407.27" width="47.1" height="6.36" fill="#8aa8b8"/>
<rect x="474.9" y="413.23" width="47.1" height="6.87" fill="#6e93b6"/>
<rect x="474.9" y="419.70" width="47.1" height="6.70" fill="#7498b7"/>
<rect x="474.9" y="426.00" width="47.1" height="6.36" fill="#80a1b7"/>
<rect x="474.9" y="431.96" width="47.1" height="6.70" fill="#4f7db5"/>
<rect x="474.9" y="438.26" width="47.1" height="6.87" fill="#98b2b9"/>
<rect x="474.9" y="444.73" width="47.1" height="6.36" fill="#7498b7"/>
<rect x="474.9" y="450.69" width="47.1" height="7.55" fill="#fefabb"/>
<rect x="474.9" y="457.85" width="47.1" height="6.02" fill="#ffffff"/>
<rect x="474.9" y="463.47" width="47.1" height="12.66" fill="#4f7db5"/>
<rect x="474.9" y="475.73" width="47.1" height="6.53" fill="#658db6"/>
<rect x="474.9" y="481.86" width="47.1" height="6.36" fill="#527fb5"/>
<rect x="474.9" y="487.82" width="47.1" height="6.70" fill="#6e93b6"/>
<rect x="474.9" y="494.12" width="47.1" height="12.32" fill="#7498b7"/>
<rect x="474.9" y="506.04" width="47.1" height="7.21" fill="#98b2b9"/>
<rect x="474.9" y="512.85" width="47.1" height="0.61" fill="#7196b7"/>
<rect x="474.9" y="513.07" width="47.1" height="6.19" fill="#7196b7"/>
<rect x="474.9" y="518.86" width="47.1" height="6.87" fill="#9db6b9"/>
<rect x="474.9" y="525.33" width="47.1" height="13.17" fill="#8aa8b8"/>
<rect x="474.9" y="538.10" width="47.1" height="12.32" fill="#7196b7"/>
<rect x="474.9" y="550.02" width="47.1" height="12.83" fill="#5f88b6"/>
<rect x="474.9" y="562.45" width="47.1" height="6.70" fill="#7d9fb7"/>
<rect x="474.9" y="568.75" width="47.1" height="12.83" fill="#7498b7"/>
<rect x="474.9" y="581.19" width="47.1" height="6.70" fill="#80a1b7"/>
<rect x="474.9" y="587.49" width="47.1" height="12.32" fill="#5883b5"/>
<rect x="474.9" y="599.41" width="47.1" height="7.21" fill="#8aa8b8"/>
<rect x="474.9" y="606.22" width="47.1" height="6.36" fill="#4c7ab4"/>
<rect x="474.9" y="612.18" width="47.1" height="6.36" fill="#5883b5"/>
<rect x="474.9" y="618.14" width="47.1" height="12.83" fill="#5f88b6"/>
<rect x="474.9" y="630.57" width="47.1" height="6.70" fill="#7498b7"/>
<rect x="474.9" y="636.87" width="47.1" height="12.32" fill="#93afb9"/>
<rect x="474.9" y="648.79" width="47.1" height="13.17" fill="#80a1b7"/>
<rect x="474.9" y="661.57" width="47.1" height="12.66" fill="#8eabb8"/>
<rect x="474.9" y="673.83" width="47.1" height="6.53" fill="#6b91b6"/>
<rect x="474.9" y="679.96" width="47.1" height="6.40" fill="#b0c4ba"/>
<rect x="474.9" y="685.96" width="47.1" height="6.70" fill="#648cb6"/>
<rect x="474.9" y="692.26" width="47.1" height="6.53" fill="#84a3b8"/>
<rect x="474.9" y="698.39" width="47.1" height="12.66" fill="#b0c5ba"/>
<rect x="474.9" y="710.65" width="47.1" height="6.87" fill="#fdf3b6"/>
<rect x="474.9" y="717.13" width="47.1" height="6.70" fill="#baccbb"/>
<rect x="474.9" y="723.43" width="47.1" height="6.70" fill="#7fa0b7"/>
<rect x="474.9" y="729.73" width="47.1" height="6.53" fill="#8eabb8"/>
<rect x="474.9" y="735.86" width="47.1" height="6.70" fill="#b9cbbb"/>
<rect x="474.9" y="742.16" width="47.1" height="6.36" fill="#c7d6bc"/>
<rect x="474.9" y="748.12" width="47.1" height="13.17" fill="#d6e1bd"/>
<rect x="474.9" y="760.89" width="47.1" height="12.32" fill="#88a7b8"/>
<rect x="474.9" y="772.81" width="47.1" height="6.70" fill="#becfbb"/>
<rect x="474.9" y="779.11" width="47.1" height="6.87" fill="#8facb8"/>
<rect x="474.9" y="785.59" width="47.1" height="6.36" fill="#6089b6"/>
<rect x="474.9" y="791.55" width="47.1" height="7.21" fill="#7397b7"/>
<rect x="474.9" y="798.36" width="47.1" height="6.36" fill="#dae3bd"/>
<rect x="474.9" y="804.32" width="47.1" height="6.36" fill="#c3d3bb"/>
<rect x="474.9" y="810.28" width="47.1" height="6.87" fill="#fffdbd"/>
<rect x="474.9" y="816.75" width="47.1" height="6.70" fill="#dae3bd"/>
<rect x="474.9" y="823.05" width="47.1" height="6.36" fill="#f8f9bf"/>
<rect x="474.9" y="829.01" width="47.1" height="6.70" fill="#c3d3bb"/>
<rect x="474.9" y="835.31" width="47.1" height="6.53" fill="#b5c8bb"/>
<rect x="474.9" y="841.44" width="47.1" height="6.70" fill="#e1e9bd"/>
<rect x="474.9" y="847.75" width="47.1" height="7.55" fill="#f4f7be"/>
<rect x="474.9" y="854.90" width="47.1" height="5.52" fill="#e1e9bd"/>
<rect x="474.9" y="860.01" width="47.1" height="7.04" fill="#fef8ba"/>
<rect x="474.9" y="866.66" width="47.1" height="6.36" fill="#fbebb0"/>
<rect x="474.9" y="872.62" width="47.1" height="5.51" fill="#f1b689"/>
<rect x="474.9" y="877.72" width="47.1" height="6.03" fill="#6a91b6"/>
</g>
<rect x="475.95" y="79.55" width="45.10" height="802.20" rx="22.55" ry="22.55" fill="none" stroke="#828180" stroke-width="2.4"/>
<g clip-path="url(#cpF)">
<rect x="592.8" y="-1.05" width="47.1" height="21.03" fill="#fdf3b6"/>
<rect x="592.8" y="19.58" width="47.1" height="6.36" fill="#f6cf9b"/>
<rect x="592.8" y="25.54" width="47.1" height="6.87" fill="#f4c595"/>
<rect x="592.8" y="32.02" width="47.1" height="6.19" fill="#93afb9"/>
<rect x="592.8" y="37.81" width="47.1" height="6.53" fill="#fef8ba"/>
<rect x="592.8" y="43.94" width="47.1" height="6.70" fill="#f8dba5"/>
<rect x="592.8" y="50.24" width="47.1" height="12.83" fill="#f7d7a2"/>
<rect x="592.8" y="62.67" width="47.1" height="6.70" fill="#ec9c76"/>
<rect x="592.8" y="68.97" width="47.1" height="6.36" fill="#fcf0b4"/>
<rect x="592.8" y="74.93" width="47.1" height="6.87" fill="#efac82"/>
<rect x="592.8" y="81.40" width="47.1" height="6.70" fill="#fdf3b6"/>
<rect x="592.8" y="87.70" width="47.1" height="6.36" fill="#f8dba5"/>
<rect x="592.8" y="93.66" width="47.1" height="6.87" fill="#f1b689"/>
<rect x="592.8" y="100.14" width="47.1" height="6.70" fill="#fdf3b6"/>
<rect x="592.8" y="106.44" width="47.1" height="6.36" fill="#fae6ad"/>
<rect x="592.8" y="112.40" width="47.1" height="6.36" fill="#f8dba5"/>
<rect x="592.8" y="118.36" width="47.1" height="6.70" fill="#fef8ba"/>
<rect x="592.8" y="124.66" width="47.1" height="6.87" fill="#f8dba5"/>
<rect x="592.8" y="131.13" width="47.1" height="6.36" fill="#fdf5b8"/>
<rect x="592.8" y="137.09" width="47.1" height="6.36" fill="#f7d7a2"/>
<rect x="592.8" y="143.05" width="47.1" height="6.87" fill="#fdf3b6"/>
<rect x="592.8" y="149.52" width="47.1" height="18.62" fill="#f9dfa7"/>
<rect x="592.8" y="167.75" width="47.1" height="6.36" fill="#e1e9bd"/>
<rect x="592.8" y="173.71" width="47.1" height="6.91" fill="#97b2b9"/>
<rect x="592.8" y="180.22" width="47.1" height="6.87" fill="#d2debc"/>
<rect x="592.8" y="186.69" width="47.1" height="6.70" fill="#ffffbf"/>
<rect x="592.8" y="192.99" width="47.1" height="6.36" fill="#f7d7a2"/>
<rect x="592.8" y="198.95" width="47.1" height="6.36" fill="#b4c7bb"/>
<rect x="592.8" y="204.91" width="47.1" height="6.87" fill="#8caab8"/>
<rect x="592.8" y="211.38" width="47.1" height="13.17" fill="#cfdbbc"/>
<rect x="592.8" y="224.16" width="47.1" height="6.19" fill="#7e9fb7"/>
<rect x="592.8" y="229.95" width="47.1" height="6.53" fill="#8facb8"/>
<rect x="592.8" y="236.08" width="47.1" height="6.70" fill="#f4f7be"/>
<rect x="592.8" y="242.38" width="47.1" height="6.36" fill="#e9eebe"/>
<rect x="592.8" y="248.34" width="47.1" height="6.70" fill="#f0f4be"/>
<rect x="592.8" y="254.64" width="47.1" height="12.83" fill="#fffdbd"/>
<rect x="592.8" y="267.07" width="47.1" height="6.87" fill="#e9eebe"/>
<rect x="592.8" y="273.54" width="47.1" height="6.36" fill="#f0f4be"/>
<rect x="592.8" y="279.50" width="47.1" height="6.70" fill="#5883b5"/>
<rect x="592.8" y="285.80" width="47.1" height="13.17" fill="#f8f9bf"/>
<rect x="592.8" y="298.58" width="47.1" height="6.36" fill="#f7d7a2"/>
<rect x="592.8" y="304.54" width="47.1" height="6.36" fill="#96b1b9"/>
<rect x="592.8" y="310.50" width="47.1" height="6.70" fill="#93afb9"/>
<rect x="592.8" y="316.80" width="47.1" height="6.53" fill="#d2debc"/>
<rect x="592.8" y="322.93" width="47.1" height="12.66" fill="#bacbbb"/>
<rect x="592.8" y="335.19" width="47.1" height="6.87" fill="#e9eebe"/>
<rect x="592.8" y="341.66" width="47.1" height="0.78" fill="#83a3b8"/>
<rect x="592.8" y="342.04" width="47.1" height="6.36" fill="#8ba9b8"/>
<rect x="592.8" y="348.00" width="47.1" height="12.49" fill="#5e88b5"/>
<rect x="592.8" y="360.10" width="47.1" height="6.70" fill="#ecf1be"/>
<rect x="592.8" y="366.40" width="47.1" height="6.70" fill="#d2debc"/>
<rect x="592.8" y="372.70" width="47.1" height="6.53" fill="#7498b7"/>
<rect x="592.8" y="378.83" width="47.1" height="6.70" fill="#628ab6"/>
<rect x="592.8" y="385.13" width="47.1" height="6.36" fill="#688fb6"/>
<rect x="592.8" y="391.09" width="47.1" height="6.70" fill="#6e93b6"/>
<rect x="592.8" y="397.39" width="47.1" height="6.53" fill="#5f88b6"/>
<rect x="592.8" y="403.52" width="47.1" height="12.66" fill="#85a4b8"/>
<rect x="592.8" y="415.78" width="47.1" height="6.70" fill="#5883b5"/>
<rect x="592.8" y="422.08" width="47.1" height="6.53" fill="#7498b7"/>
<rect x="592.8" y="428.22" width="47.1" height="6.70" fill="#5883b5"/>
<rect x="592.8" y="434.52" width="47.1" height="6.70" fill="#becfbb"/>
<rect x="592.8" y="440.82" width="47.1" height="6.53" fill="#80a1b7"/>
<rect x="592.8" y="446.95" width="47.1" height="6.70" fill="#98b2b9"/>
<rect x="592.8" y="453.25" width="47.1" height="6.36" fill="#7d9fb7"/>
<rect x="592.8" y="459.21" width="47.1" height="6.87" fill="#5c86b5"/>
<rect x="592.8" y="465.68" width="47.1" height="6.70" fill="#6e93b6"/>
<rect x="592.8" y="471.98" width="47.1" height="19.13" fill="#688fb6"/>
<rect x="592.8" y="490.72" width="47.1" height="6.36" fill="#4f7db5"/>
<rect x="592.8" y="496.68" width="47.1" height="6.87" fill="#5883b5"/>
<rect x="592.8" y="503.15" width="47.1" height="6.70" fill="#6e93b6"/>
<rect x="592.8" y="509.45" width="47.1" height="6.06" fill="#5581b5"/>
<rect x="592.8" y="515.11" width="47.1" height="6.36" fill="#4f7db5"/>
<rect x="592.8" y="521.07" width="47.1" height="7.21" fill="#5883b5"/>
<rect x="592.8" y="527.88" width="47.1" height="6.36" fill="#6e93b6"/>
<rect x="592.8" y="533.84" width="47.1" height="18.28" fill="#7196b7"/>
<rect x="592.8" y="551.72" width="47.1" height="6.70" fill="#80a1b7"/>
<rect x="592.8" y="558.02" width="47.1" height="6.87" fill="#5581b5"/>
<rect x="592.8" y="564.50" width="47.1" height="6.87" fill="#6e93b6"/>
<rect x="592.8" y="570.97" width="47.1" height="6.36" fill="#5883b5"/>
<rect x="592.8" y="576.93" width="47.1" height="6.70" fill="#779ab7"/>
<rect x="592.8" y="583.23" width="47.1" height="13.17" fill="#85a4b8"/>
<rect x="592.8" y="596.00" width="47.1" height="12.32" fill="#7d9fb7"/>
<rect x="592.8" y="607.92" width="47.1" height="6.70" fill="#b0c4ba"/>
<rect x="592.8" y="614.22" width="47.1" height="6.53" fill="#80a1b7"/>
<rect x="592.8" y="620.35" width="47.1" height="7.21" fill="#abc1ba"/>
<rect x="592.8" y="627.17" width="47.1" height="6.19" fill="#628ab6"/>
<rect x="592.8" y="632.96" width="47.1" height="6.87" fill="#80a1b7"/>
<rect x="592.8" y="639.43" width="47.1" height="6.36" fill="#93afb9"/>
<rect x="592.8" y="645.39" width="47.1" height="6.36" fill="#5c86b5"/>
<rect x="592.8" y="651.35" width="47.1" height="6.87" fill="#8aa8b8"/>
<rect x="592.8" y="657.82" width="47.1" height="12.66" fill="#a6bdba"/>
<rect x="592.8" y="670.08" width="47.1" height="6.70" fill="#f4f7be"/>
<rect x="592.8" y="676.38" width="47.1" height="6.36" fill="#8ba9b8"/>
<rect x="592.8" y="682.34" width="47.1" height="0.61" fill="#7397b7"/>
<rect x="592.8" y="682.55" width="47.1" height="12.83" fill="#80a1b7"/>
<rect x="592.8" y="694.99" width="47.1" height="18.62" fill="#b4c8bb"/>
<rect x="592.8" y="713.21" width="47.1" height="25.09" fill="#8aa8b8"/>
<rect x="592.8" y="737.90" width="47.1" height="6.87" fill="#abc1ba"/>
<rect x="592.8" y="744.37" width="47.1" height="6.70" fill="#c2d2bb"/>
<rect x="592.8" y="750.67" width="47.1" height="6.70" fill="#789bb7"/>
<rect x="592.8" y="756.98" width="47.1" height="6.87" fill="#668db6"/>
<rect x="592.8" y="763.45" width="47.1" height="6.36" fill="#c0d0bb"/>
<rect x="592.8" y="769.41" width="47.1" height="12.83" fill="#fdf5b8"/>
<rect x="592.8" y="781.84" width="47.1" height="6.70" fill="#f7d7a2"/>
<rect x="592.8" y="788.14" width="47.1" height="18.28" fill="#fef8ba"/>
<rect x="592.8" y="806.02" width="47.1" height="7.21" fill="#dae3bd"/>
<rect x="592.8" y="812.83" width="47.1" height="6.36" fill="#ecf1be"/>
<rect x="592.8" y="818.79" width="47.1" height="6.36" fill="#cfdbbc"/>
<rect x="592.8" y="824.75" width="47.1" height="6.87" fill="#e9eebe"/>
<rect x="592.8" y="831.23" width="47.1" height="6.70" fill="#fffdbd"/>
<rect x="592.8" y="837.53" width="47.1" height="6.70" fill="#f8dba5"/>
<rect x="592.8" y="843.83" width="47.1" height="6.53" fill="#e1e9bd"/>
<rect x="592.8" y="849.96" width="47.1" height="6.70" fill="#fef8ba"/>
<rect x="592.8" y="856.26" width="47.1" height="0.58" fill="#f6d39f"/>
<rect x="592.8" y="856.44" width="47.1" height="6.36" fill="#f6d39f"/>
<rect x="592.8" y="862.40" width="47.1" height="6.36" fill="#f1b689"/>
<rect x="592.8" y="868.36" width="47.1" height="7.21" fill="#f7d7a2"/>
<rect x="592.8" y="875.17" width="47.1" height="8.58" fill="#efac82"/>
</g>
<rect x="593.75" y="0.95" width="45.10" height="880.80" rx="22.55" ry="22.55" fill="none" stroke="#828180" stroke-width="2.4"/>
<line x1="52.0" y1="210.1" x2="73.5" y2="210.1" stroke="#bababa" stroke-width="0.8"/>
<line x1="52.0" y1="241.3" x2="73.5" y2="226.4" stroke="#bababa" stroke-width="0.8"/>
<line x1="52.0" y1="241.3" x2="73.5" y2="257.1" stroke="#bababa" stroke-width="0.8"/>
<line x1="52.0" y1="488.0" x2="73.5" y2="472.1" stroke="#bababa" stroke-width="0.8"/>
<line x1="52.0" y1="488.0" x2="73.5" y2="505.8" stroke="#bababa" stroke-width="0.8"/>
<circle cx="73.5" cy="210.1" r="11.1" fill="#c8c8c8"/>
<circle cx="73.5" cy="226.4" r="11.1" fill="#c8c8c8"/>
<circle cx="73.5" cy="257.1" r="11.1" fill="#c8c8c8"/>
<circle cx="73.5" cy="472.1" r="11.1" fill="#c8c8c8"/>
<circle cx="73.5" cy="505.8" r="11.1" fill="#c8c8c8"/>
<circle cx="73.5" cy="591.6" r="11.1" fill="#2ca42c"/>
<circle cx="73.5" cy="606.9" r="11.1" fill="#c8c8c8"/>
<circle cx="73.5" cy="623.3" r="11.1" fill="#3b6fa6"/>
<circle cx="73.5" cy="653.4" r="11.1" fill="#c8c8c8"/>
<circle cx="73.5" cy="668.7" r="11.1" fill="#2ca42c"/>
<circle cx="73.5" cy="684.8" r="11.1" fill="#2ca42c"/>
<circle cx="73.5" cy="700.6" r="11.1" fill="#2ca42c"/>
<circle cx="73.5" cy="715.4" r="11.1" fill="#3b6fa6"/>
<circle cx="73.5" cy="730.4" r="11.1" fill="#2ca42c"/>
<circle cx="73.5" cy="746.0" r="11.1" fill="#2ca42c"/>
<circle cx="73.5" cy="761.4" r="11.1" fill="#2ca42c"/>
<circle cx="73.5" cy="776.1" r="11.1" fill="#3b6fa6"/>
<circle cx="73.5" cy="791.5" r="11.1" fill="#c8c8c8"/>
<circle cx="73.5" cy="806.9" r="11.1" fill="#e8401c"/>
<circle cx="73.5" cy="822.2" r="11.1" fill="#c8c8c8"/>
<circle cx="73.5" cy="837.5" r="11.1" fill="#c8c8c8"/>
<circle cx="73.5" cy="852.9" r="11.1" fill="#e8401c"/>
<circle cx="73.5" cy="868.2" r="11.1" fill="#e8401c"/>
<circle cx="73.5" cy="884.1" r="11.1" fill="#2ca42c"/>
<circle cx="73.5" cy="902.3" r="11.1" fill="#e8401c"/>
<circle cx="73.5" cy="918.2" r="11.1" fill="#2ca42c"/>
<circle cx="73.5" cy="934.1" r="11.1" fill="#2ca42c"/>
<circle cx="73.5" cy="950.0" r="11.1" fill="#2ca42c"/>
<circle cx="73.5" cy="975.0" r="11.1" fill="#e8401c"/>
<circle cx="73.5" cy="994.7" r="11.1" fill="#2ca42c"/>
<circle cx="73.5" cy="1010.9" r="11.1" fill="#c8c8c8"/>
<line x1="52.0" y1="799.0" x2="73.5" y2="591.6" stroke="#2ca42c" stroke-width="0.95"/>
<line x1="52.0" y1="799.5" x2="73.5" y2="606.9" stroke="#c8c8c8" stroke-width="0.75"/>
<line x1="52.0" y1="799.5" x2="73.5" y2="623.3" stroke="#3b6fa6" stroke-width="0.95"/>
<line x1="52.0" y1="800.0" x2="73.5" y2="653.4" stroke="#c8c8c8" stroke-width="0.75"/>
<line x1="52.0" y1="800.0" x2="73.5" y2="668.7" stroke="#2ca42c" stroke-width="0.95"/>
<line x1="52.0" y1="800.0" x2="73.5" y2="684.8" stroke="#2ca42c" stroke-width="0.95"/>
<line x1="52.0" y1="800.0" x2="73.5" y2="700.6" stroke="#2ca42c" stroke-width="0.95"/>
<line x1="52.0" y1="800.5" x2="73.5" y2="715.4" stroke="#3b6fa6" stroke-width="0.95"/>
<line x1="52.0" y1="800.5" x2="73.5" y2="730.4" stroke="#2ca42c" stroke-width="0.95"/>
<line x1="52.0" y1="801.0" x2="73.5" y2="746.0" stroke="#2ca42c" stroke-width="0.95"/>
<line x1="52.0" y1="801.0" x2="73.5" y2="761.4" stroke="#2ca42c" stroke-width="0.95"/>
<line x1="52.0" y1="801.0" x2="73.5" y2="776.1" stroke="#3b6fa6" stroke-width="0.95"/>
<line x1="52.0" y1="801.5" x2="73.5" y2="791.5" stroke="#c8c8c8" stroke-width="0.75"/>
<line x1="52.0" y1="802.0" x2="73.5" y2="806.9" stroke="#e8401c" stroke-width="0.95"/>
<line x1="52.0" y1="802.0" x2="73.5" y2="822.2" stroke="#c8c8c8" stroke-width="0.75"/>
<line x1="52.0" y1="802.5" x2="73.5" y2="837.5" stroke="#c8c8c8" stroke-width="0.75"/>
<line x1="52.0" y1="803.0" x2="73.5" y2="852.9" stroke="#e8401c" stroke-width="0.95"/>
<line x1="52.0" y1="803.0" x2="73.5" y2="868.2" stroke="#e8401c" stroke-width="0.95"/>
<line x1="52.0" y1="803.0" x2="73.5" y2="884.1" stroke="#2ca42c" stroke-width="0.95"/>
<line x1="52.0" y1="803.5" x2="73.5" y2="902.3" stroke="#e8401c" stroke-width="0.95"/>
<line x1="52.0" y1="803.5" x2="73.5" y2="918.2" stroke="#2ca42c" stroke-width="0.95"/>
<line x1="52.0" y1="804.0" x2="73.5" y2="934.1" stroke="#2ca42c" stroke-width="0.95"/>
<line x1="52.0" y1="804.0" x2="73.5" y2="950.0" stroke="#2ca42c" stroke-width="0.95"/>
<line x1="52.0" y1="804.0" x2="73.5" y2="975.0" stroke="#e8401c" stroke-width="0.95"/>
<line x1="52.0" y1="804.0" x2="73.5" y2="994.7" stroke="#2ca42c" stroke-width="0.95"/>
<line x1="52.0" y1="804.5" x2="73.5" y2="1010.9" stroke="#c8c8c8" stroke-width="0.75"/>
<line x1="169.8" y1="137.1" x2="191.3" y2="137.1" stroke="#bababa" stroke-width="0.8"/>
<line x1="169.8" y1="212.1" x2="191.3" y2="197.1" stroke="#bababa" stroke-width="0.8"/>
<line x1="169.8" y1="246.6" x2="191.3" y2="216.8" stroke="#bababa" stroke-width="0.8"/>
<line x1="169.8" y1="246.6" x2="191.3" y2="260.9" stroke="#bababa" stroke-width="0.8"/>
<line x1="169.8" y1="246.6" x2="191.3" y2="277.0" stroke="#bababa" stroke-width="0.8"/>
<line x1="169.8" y1="698.2" x2="191.3" y2="698.2" stroke="#bababa" stroke-width="0.8"/>
<circle cx="191.3" cy="137.1" r="11.1" fill="#c8c8c8"/>
<circle cx="191.3" cy="197.1" r="11.1" fill="#c8c8c8"/>
<circle cx="191.3" cy="216.8" r="11.1" fill="#c8c8c8"/>
<circle cx="191.3" cy="260.9" r="11.1" fill="#c8c8c8"/>
<circle cx="191.3" cy="277.0" r="11.1" fill="#c8c8c8"/>
<circle cx="191.3" cy="698.2" r="11.1" fill="#c8c8c8"/>
<circle cx="191.3" cy="756.6" r="11.1" fill="#2ca42c"/>
<circle cx="191.3" cy="772.1" r="11.1" fill="#2ca42c"/>
<circle cx="191.3" cy="787.9" r="11.1" fill="#c8c8c8"/>
<circle cx="191.3" cy="817.9" r="11.1" fill="#3b6fa6"/>
<circle cx="191.3" cy="833.0" r="11.1" fill="#c8c8c8"/>
<circle cx="191.3" cy="852.1" r="11.1" fill="#3b6fa6"/>
<line x1="169.8" y1="801.5" x2="191.3" y2="756.6" stroke="#2ca42c" stroke-width="0.95"/>
<line x1="169.8" y1="802.0" x2="191.3" y2="772.1" stroke="#2ca42c" stroke-width="0.95"/>
<line x1="169.8" y1="802.0" x2="191.3" y2="787.9" stroke="#c8c8c8" stroke-width="0.75"/>
<line x1="169.8" y1="802.5" x2="191.3" y2="817.9" stroke="#3b6fa6" stroke-width="0.95"/>
<line x1="169.8" y1="802.5" x2="191.3" y2="833.0" stroke="#c8c8c8" stroke-width="0.75"/>
<line x1="169.8" y1="803.0" x2="191.3" y2="852.1" stroke="#3b6fa6" stroke-width="0.95"/>
<line x1="287.5" y1="118.8" x2="308.8" y2="118.8" stroke="#bababa" stroke-width="0.8"/>
<line x1="287.5" y1="204.5" x2="308.8" y2="189.8" stroke="#bababa" stroke-width="0.8"/>
<line x1="287.5" y1="237.1" x2="308.8" y2="206.6" stroke="#bababa" stroke-width="0.8"/>
<line x1="287.5" y1="237.1" x2="308.8" y2="236.6" stroke="#bababa" stroke-width="0.8"/>
<line x1="287.5" y1="237.1" x2="308.8" y2="251.8" stroke="#bababa" stroke-width="0.8"/>
<line x1="287.5" y1="237.1" x2="308.8" y2="267.5" stroke="#bababa" stroke-width="0.8"/>
<line x1="287.5" y1="478.6" x2="308.8" y2="463.6" stroke="#bababa" stroke-width="0.8"/>
<line x1="287.5" y1="478.6" x2="308.8" y2="497.3" stroke="#bababa" stroke-width="0.8"/>
<circle cx="308.8" cy="118.8" r="11.1" fill="#c8c8c8"/>
<circle cx="308.8" cy="189.8" r="11.1" fill="#c8c8c8"/>
<circle cx="308.8" cy="206.6" r="11.1" fill="#c8c8c8"/>
<circle cx="308.8" cy="236.6" r="11.1" fill="#c8c8c8"/>
<circle cx="308.8" cy="251.8" r="11.1" fill="#c8c8c8"/>
<circle cx="308.8" cy="267.5" r="11.1" fill="#c8c8c8"/>
<circle cx="308.8" cy="463.6" r="11.1" fill="#c8c8c8"/>
<circle cx="308.8" cy="497.3" r="11.1" fill="#c8c8c8"/>
<circle cx="308.8" cy="708.2" r="11.1" fill="#2ca42c"/>
<circle cx="308.8" cy="724.5" r="11.1" fill="#2ca42c"/>
<circle cx="308.8" cy="740.1" r="11.1" fill="#2ca42c"/>
<circle cx="308.8" cy="755.4" r="11.1" fill="#3b6fa6"/>
<circle cx="308.8" cy="770.7" r="11.1" fill="#c8c8c8"/>
<circle cx="308.8" cy="801.4" r="11.1" fill="#c8c8c8"/>
<circle cx="308.8" cy="817.1" r="11.1" fill="#c8c8c8"/>
<circle cx="308.8" cy="832.4" r="11.1" fill="#c8c8c8"/>
<circle cx="308.8" cy="851.1" r="11.1" fill="#3b6fa6"/>
<circle cx="308.8" cy="868.2" r="11.1" fill="#3b6fa6"/>
<line x1="287.5" y1="783.5" x2="308.8" y2="708.2" stroke="#2ca42c" stroke-width="0.95"/>
<line x1="287.5" y1="784.0" x2="308.8" y2="724.5" stroke="#2ca42c" stroke-width="0.95"/>
<line x1="287.5" y1="784.0" x2="308.8" y2="740.1" stroke="#2ca42c" stroke-width="0.95"/>
<line x1="287.5" y1="784.5" x2="308.8" y2="755.4" stroke="#3b6fa6" stroke-width="0.95"/>
<line x1="287.5" y1="784.5" x2="308.8" y2="770.7" stroke="#c8c8c8" stroke-width="0.75"/>
<line x1="287.5" y1="785.0" x2="308.8" y2="801.4" stroke="#c8c8c8" stroke-width="0.75"/>
<line x1="287.5" y1="785.0" x2="308.8" y2="817.1" stroke="#c8c8c8" stroke-width="0.75"/>
<line x1="287.5" y1="785.5" x2="308.8" y2="832.4" stroke="#c8c8c8" stroke-width="0.75"/>
<line x1="287.5" y1="785.5" x2="308.8" y2="851.1" stroke="#3b6fa6" stroke-width="0.95"/>
<line x1="287.5" y1="786.0" x2="308.8" y2="868.2" stroke="#3b6fa6" stroke-width="0.95"/>
<line x1="404.8" y1="181.2" x2="426.3" y2="150.9" stroke="#bababa" stroke-width="0.8"/>
<line x1="404.8" y1="181.2" x2="426.3" y2="166.7" stroke="#bababa" stroke-width="0.8"/>
<line x1="404.8" y1="181.2" x2="426.3" y2="182.1" stroke="#bababa" stroke-width="0.8"/>
<line x1="404.8" y1="181.2" x2="426.3" y2="198.6" stroke="#bababa" stroke-width="0.8"/>
<line x1="404.8" y1="236.7" x2="426.3" y2="222.6" stroke="#bababa" stroke-width="0.8"/>
<line x1="404.8" y1="265.5" x2="426.3" y2="250.6" stroke="#bababa" stroke-width="0.8"/>
<line x1="404.8" y1="265.5" x2="426.3" y2="281.0" stroke="#bababa" stroke-width="0.8"/>
<line x1="404.8" y1="265.5" x2="426.3" y2="311.2" stroke="#bababa" stroke-width="0.8"/>
<line x1="404.8" y1="348.4" x2="426.3" y2="348.4" stroke="#bababa" stroke-width="0.8"/>
<circle cx="426.3" cy="150.9" r="11.1" fill="#c8c8c8"/>
<circle cx="426.3" cy="166.7" r="11.1" fill="#c8c8c8"/>
<circle cx="426.3" cy="182.1" r="11.1" fill="#c8c8c8"/>
<circle cx="426.3" cy="198.6" r="11.1" fill="#c8c8c8"/>
<circle cx="426.3" cy="222.6" r="11.1" fill="#c8c8c8"/>
<circle cx="426.3" cy="250.6" r="11.1" fill="#c8c8c8"/>
<circle cx="426.3" cy="281.0" r="11.1" fill="#c8c8c8"/>
<circle cx="426.3" cy="311.2" r="11.1" fill="#c8c8c8"/>
<circle cx="426.3" cy="348.4" r="11.1" fill="#c8c8c8"/>
<circle cx="426.3" cy="574.1" r="11.1" fill="#3b6fa6"/>
<circle cx="426.3" cy="589.5" r="11.1" fill="#3b6fa6"/>
<circle cx="426.3" cy="605.3" r="11.1" fill="#2ca42c"/>
<circle cx="426.3" cy="620.4" r="11.1" fill="#2ca42c"/>
<circle cx="426.3" cy="636.2" r="11.1" fill="#c8c8c8"/>
<circle cx="426.3" cy="651.3" r="11.1" fill="#2ca42c"/>
<circle cx="426.3" cy="667.1" r="11.1" fill="#2ca42c"/>
<circle cx="426.3" cy="682.2" r="11.1" fill="#2ca42c"/>
<circle cx="426.3" cy="697.1" r="11.1" fill="#2ca42c"/>
<circle cx="426.3" cy="712.9" r="11.1" fill="#c8c8c8"/>
<circle cx="426.3" cy="728.0" r="11.1" fill="#3b6fa6"/>
<circle cx="426.3" cy="743.8" r="11.1" fill="#2ca42c"/>
<circle cx="426.3" cy="758.9" r="11.1" fill="#3b6fa6"/>
<circle cx="426.3" cy="774.7" r="11.1" fill="#2ca42c"/>
<circle cx="426.3" cy="789.9" r="11.1" fill="#2ca42c"/>
<circle cx="426.3" cy="805.7" r="11.1" fill="#2ca42c"/>
<circle cx="426.3" cy="820.8" r="11.1" fill="#2ca42c"/>
<circle cx="426.3" cy="836.3" r="11.1" fill="#2ca42c"/>
<circle cx="426.3" cy="852.8" r="11.1" fill="#2ca42c"/>
<circle cx="426.3" cy="867.9" r="11.1" fill="#2ca42c"/>
<circle cx="426.3" cy="883.0" r="11.1" fill="#3b6fa6"/>
<circle cx="426.3" cy="898.4" r="11.1" fill="#3b6fa6"/>
<circle cx="426.3" cy="913.9" r="11.1" fill="#2ca42c"/>
<circle cx="426.3" cy="929.1" r="11.1" fill="#c8c8c8"/>
<circle cx="426.3" cy="944.3" r="11.1" fill="#3b6fa6"/>
<circle cx="426.3" cy="960.2" r="11.1" fill="#c8c8c8"/>
<circle cx="426.3" cy="991.1" r="11.1" fill="#2ca42c"/>
<circle cx="426.3" cy="1006.2" r="11.1" fill="#2ca42c"/>
<circle cx="426.3" cy="1021.4" r="11.1" fill="#2ca42c"/>
<circle cx="426.3" cy="1036.5" r="11.1" fill="#2ca42c"/>
<circle cx="426.3" cy="1052.3" r="11.1" fill="#c8c8c8"/>
<line x1="404.8" y1="806.0" x2="426.3" y2="574.1" stroke="#3b6fa6" stroke-width="0.95"/>
<line x1="404.8" y1="806.0" x2="426.3" y2="589.5" stroke="#3b6fa6" stroke-width="0.95"/>
<line x1="404.8" y1="806.0" x2="426.3" y2="605.3" stroke="#2ca42c" stroke-width="0.95"/>
<line x1="404.8" y1="806.5" x2="426.3" y2="620.4" stroke="#2ca42c" stroke-width="0.95"/>
<line x1="404.8" y1="806.5" x2="426.3" y2="636.2" stroke="#c8c8c8" stroke-width="0.75"/>
<line x1="404.8" y1="806.5" x2="426.3" y2="651.3" stroke="#2ca42c" stroke-width="0.95"/>
<line x1="404.8" y1="807.0" x2="426.3" y2="667.1" stroke="#2ca42c" stroke-width="0.95"/>
<line x1="404.8" y1="807.0" x2="426.3" y2="682.2" stroke="#2ca42c" stroke-width="0.95"/>
<line x1="404.8" y1="807.0" x2="426.3" y2="697.1" stroke="#2ca42c" stroke-width="0.95"/>
<line x1="404.8" y1="807.5" x2="426.3" y2="712.9" stroke="#c8c8c8" stroke-width="0.75"/>
<line x1="404.8" y1="807.5" x2="426.3" y2="728.0" stroke="#3b6fa6" stroke-width="0.95"/>
<line x1="404.8" y1="807.5" x2="426.3" y2="743.8" stroke="#2ca42c" stroke-width="0.95"/>
<line x1="404.8" y1="808.0" x2="426.3" y2="758.9" stroke="#3b6fa6" stroke-width="0.95"/>
<line x1="404.8" y1="808.0" x2="426.3" y2="774.7" stroke="#2ca42c" stroke-width="0.95"/>
<line x1="404.8" y1="808.0" x2="426.3" y2="789.9" stroke="#2ca42c" stroke-width="0.95"/>
<line x1="404.8" y1="808.5" x2="426.3" y2="805.7" stroke="#2ca42c" stroke-width="0.95"/>
<line x1="404.8" y1="808.5" x2="426.3" y2="820.8" stroke="#2ca42c" stroke-width="0.95"/>
<line x1="404.8" y1="808.5" x2="426.3" y2="836.3" stroke="#2ca42c" stroke-width="0.95"/>
<line x1="404.8" y1="809.0" x2="426.3" y2="852.8" stroke="#2ca42c" stroke-width="0.95"/>
<line x1="404.8" y1="809.0" x2="426.3" y2="867.9" stroke="#2ca42c" stroke-width="0.95"/>
<line x1="404.8" y1="809.0" x2="426.3" y2="883.0" stroke="#3b6fa6" stroke-width="0.95"/>
<line x1="404.8" y1="809.5" x2="426.3" y2="898.4" stroke="#3b6fa6" stroke-width="0.95"/>
<line x1="404.8" y1="809.5" x2="426.3" y2="913.9" stroke="#2ca42c" stroke-width="0.95"/>
<line x1="404.8" y1="809.5" x2="426.3" y2="929.1" stroke="#c8c8c8" stroke-width="0.75"/>
<line x1="404.8" y1="810.0" x2="426.3" y2="944.3" stroke="#3b6fa6" stroke-width="0.95"/>
<line x1="404.8" y1="810.0" x2="426.3" y2="960.2" stroke="#c8c8c8" stroke-width="0.75"/>
<line x1="404.8" y1="810.0" x2="426.3" y2="991.1" stroke="#2ca42c" stroke-width="0.95"/>
<line x1="404.8" y1="810.5" x2="426.3" y2="1006.2" stroke="#2ca42c" stroke-width="0.95"/>
<line x1="404.8" y1="810.5" x2="426.3" y2="1021.4" stroke="#2ca42c" stroke-width="0.95"/>
<line x1="404.8" y1="810.5" x2="426.3" y2="1036.5" stroke="#2ca42c" stroke-width="0.95"/>
<line x1="404.8" y1="811.0" x2="426.3" y2="1052.3" stroke="#c8c8c8" stroke-width="0.75"/>
<line x1="522.0" y1="199.0" x2="543.7" y2="184.5" stroke="#bababa" stroke-width="0.8"/>
<line x1="522.0" y1="230.5" x2="543.7" y2="200.7" stroke="#bababa" stroke-width="0.8"/>
<line x1="522.0" y1="230.5" x2="543.7" y2="244.9" stroke="#bababa" stroke-width="0.8"/>
<line x1="522.0" y1="230.5" x2="543.7" y2="261.1" stroke="#bababa" stroke-width="0.8"/>
<line x1="522.0" y1="480.5" x2="543.7" y2="480.5" stroke="#bababa" stroke-width="0.8"/>
<line x1="522.0" y1="669.2" x2="543.7" y2="669.2" stroke="#bababa" stroke-width="0.8"/>
<circle cx="543.7" cy="184.5" r="11.1" fill="#c8c8c8"/>
<circle cx="543.7" cy="200.7" r="11.1" fill="#c8c8c8"/>
<circle cx="543.7" cy="244.9" r="11.1" fill="#c8c8c8"/>
<circle cx="543.7" cy="261.1" r="11.1" fill="#c8c8c8"/>
<circle cx="543.7" cy="480.5" r="11.1" fill="#c8c8c8"/>
<circle cx="543.7" cy="669.2" r="11.1" fill="#c8c8c8"/>
<circle cx="543.7" cy="735.0" r="11.1" fill="#2ca42c"/>
<circle cx="543.7" cy="750.7" r="11.1" fill="#2ca42c"/>
<circle cx="543.7" cy="766.5" r="11.1" fill="#2ca42c"/>
<circle cx="543.7" cy="781.7" r="11.1" fill="#2ca42c"/>
<circle cx="543.7" cy="796.7" r="11.1" fill="#2ca42c"/>
<circle cx="543.7" cy="812.0" r="11.1" fill="#c8c8c8"/>
<circle cx="543.7" cy="831.0" r="11.1" fill="#3b6fa6"/>
<circle cx="543.7" cy="860.4" r="11.1" fill="#c8c8c8"/>
<circle cx="543.7" cy="877.0" r="11.1" fill="#2ca42c"/>
<circle cx="543.7" cy="893.4" r="11.1" fill="#e8401c"/>
<line x1="522.0" y1="810.0" x2="543.7" y2="735.0" stroke="#2ca42c" stroke-width="0.95"/>
<line x1="522.0" y1="810.5" x2="543.7" y2="750.7" stroke="#2ca42c" stroke-width="0.95"/>
<line x1="522.0" y1="810.5" x2="543.7" y2="766.5" stroke="#2ca42c" stroke-width="0.95"/>
<line x1="522.0" y1="811.0" x2="543.7" y2="781.7" stroke="#2ca42c" stroke-width="0.95"/>
<line x1="522.0" y1="811.0" x2="543.7" y2="796.7" stroke="#2ca42c" stroke-width="0.95"/>
<line x1="522.0" y1="811.0" x2="543.7" y2="812.0" stroke="#c8c8c8" stroke-width="0.75"/>
<line x1="522.0" y1="811.5" x2="543.7" y2="831.0" stroke="#3b6fa6" stroke-width="0.95"/>
<line x1="522.0" y1="811.5" x2="543.7" y2="860.4" stroke="#c8c8c8" stroke-width="0.75"/>
<line x1="522.0" y1="812.0" x2="543.7" y2="877.0" stroke="#2ca42c" stroke-width="0.95"/>
<line x1="522.0" y1="812.0" x2="543.7" y2="893.4" stroke="#e8401c" stroke-width="0.95"/>
<line x1="640.0" y1="63.5" x2="661.5" y2="15.3" stroke="#bababa" stroke-width="0.8"/>
<line x1="640.0" y1="63.5" x2="661.5" y2="32.7" stroke="#bababa" stroke-width="0.8"/>
<line x1="640.0" y1="63.5" x2="661.5" y2="49.1" stroke="#bababa" stroke-width="0.8"/>
<line x1="640.0" y1="63.5" x2="661.5" y2="65.0" stroke="#bababa" stroke-width="0.8"/>
<line x1="640.0" y1="63.5" x2="661.5" y2="80.4" stroke="#bababa" stroke-width="0.8"/>
<line x1="640.0" y1="63.5" x2="661.5" y2="96.5" stroke="#bababa" stroke-width="0.8"/>
<line x1="640.0" y1="152.8" x2="661.5" y2="137.6" stroke="#bababa" stroke-width="0.8"/>
<line x1="640.0" y1="152.8" x2="661.5" y2="153.4" stroke="#bababa" stroke-width="0.8"/>
<line x1="640.0" y1="185.7" x2="661.5" y2="170.5" stroke="#bababa" stroke-width="0.8"/>
<line x1="640.0" y1="185.7" x2="661.5" y2="189.6" stroke="#bababa" stroke-width="0.8"/>
<line x1="640.0" y1="190.3" x2="661.5" y2="215.9" stroke="#bababa" stroke-width="0.8"/>
<line x1="640.0" y1="190.3" x2="661.5" y2="235.0" stroke="#bababa" stroke-width="0.8"/>
<line x1="640.0" y1="363.5" x2="661.5" y2="348.3" stroke="#bababa" stroke-width="0.8"/>
<line x1="640.0" y1="365.0" x2="661.5" y2="380.9" stroke="#bababa" stroke-width="0.8"/>
<line x1="640.0" y1="626.8" x2="660.0" y2="626.8" stroke="#bababa" stroke-width="0.8"/>
<line x1="640.0" y1="643.0" x2="660.0" y2="643.0" stroke="#bababa" stroke-width="0.8"/>
<circle cx="661.5" cy="15.3" r="11.1" fill="#c8c8c8"/>
<circle cx="661.5" cy="32.7" r="11.1" fill="#c8c8c8"/>
<circle cx="661.5" cy="49.1" r="11.1" fill="#c8c8c8"/>
<circle cx="661.5" cy="65.0" r="11.1" fill="#c8c8c8"/>
<circle cx="661.5" cy="80.4" r="11.1" fill="#c8c8c8"/>
<circle cx="661.5" cy="96.5" r="11.1" fill="#c8c8c8"/>
<circle cx="661.5" cy="137.6" r="11.1" fill="#c8c8c8"/>
<circle cx="661.5" cy="153.4" r="11.1" fill="#c8c8c8"/>
<circle cx="661.5" cy="170.5" r="11.1" fill="#c8c8c8"/>
<circle cx="661.5" cy="189.6" r="11.1" fill="#c8c8c8"/>
<circle cx="661.5" cy="215.9" r="11.1" fill="#c8c8c8"/>
<circle cx="661.5" cy="235.0" r="11.1" fill="#c8c8c8"/>
<circle cx="661.5" cy="348.3" r="11.1" fill="#c8c8c8"/>
<circle cx="661.5" cy="380.9" r="11.1" fill="#c8c8c8"/>
<circle cx="684.3" cy="549.6" r="11.1" fill="#2ca42c"/>
<circle cx="684.3" cy="564.7" r="11.1" fill="#c8c8c8"/>
<circle cx="684.3" cy="580.5" r="11.1" fill="#2ca42c"/>
<circle cx="684.3" cy="596.3" r="11.1" fill="#e8401c"/>
<circle cx="684.3" cy="626.6" r="11.1" fill="#c8c8c8"/>
<circle cx="684.3" cy="610.8" r="11.1" fill="#e8401c"/>
<circle cx="684.3" cy="642.4" r="11.1" fill="#e8401c"/>
<circle cx="684.3" cy="657.5" r="11.1" fill="#c8c8c8"/>
<circle cx="684.3" cy="672.4" r="11.1" fill="#e8401c"/>
<circle cx="684.3" cy="687.5" r="11.1" fill="#3b6fa6"/>
<circle cx="684.3" cy="703.3" r="11.1" fill="#e8401c"/>
<circle cx="684.3" cy="718.4" r="11.1" fill="#e8401c"/>
<circle cx="684.3" cy="734.2" r="11.1" fill="#e8401c"/>
<circle cx="684.3" cy="749.3" r="11.1" fill="#e8401c"/>
<circle cx="684.3" cy="764.5" r="11.1" fill="#e8401c"/>
<circle cx="684.3" cy="779.6" r="11.1" fill="#e8401c"/>
<circle cx="684.3" cy="796.4" r="11.1" fill="#3b6fa6"/>
<circle cx="684.3" cy="812.9" r="11.1" fill="#e8401c"/>
<circle cx="684.3" cy="843.8" r="11.1" fill="#e8401c"/>
<circle cx="684.3" cy="857.6" r="11.1" fill="#e8401c"/>
<circle cx="684.3" cy="874.7" r="11.1" fill="#c8c8c8"/>
<circle cx="684.3" cy="889.9" r="11.1" fill="#c8c8c8"/>
<circle cx="684.3" cy="905.0" r="11.1" fill="#2ca42c"/>
<circle cx="684.3" cy="919.3" r="11.1" fill="#e8401c"/>
<circle cx="684.3" cy="936.5" r="11.1" fill="#c8c8c8"/>
<circle cx="684.3" cy="951.5" r="11.1" fill="#c8c8c8"/>
<circle cx="684.3" cy="967.0" r="11.1" fill="#c8c8c8"/>
<circle cx="684.3" cy="982.4" r="11.1" fill="#e8401c"/>
<circle cx="684.3" cy="997.5" r="11.1" fill="#3b6fa6"/>
<circle cx="684.3" cy="1013.3" r="11.1" fill="#e8401c"/>
<circle cx="708.6" cy="562.1" r="11.1" fill="#e8401c"/>
<circle cx="708.6" cy="577.2" r="11.1" fill="#e8401c"/>
<circle cx="708.6" cy="593.0" r="11.1" fill="#c8c8c8"/>
<circle cx="708.6" cy="608.2" r="11.1" fill="#e8401c"/>
<circle cx="708.6" cy="623.9" r="11.1" fill="#3b6fa6"/>
<circle cx="708.6" cy="639.1" r="11.1" fill="#c8c8c8"/>
<circle cx="708.6" cy="655.7" r="11.1" fill="#e8401c"/>
<circle cx="708.6" cy="671.0" r="11.1" fill="#e8401c"/>
<circle cx="708.6" cy="686.6" r="11.1" fill="#3b6fa6"/>
<circle cx="708.6" cy="702.0" r="11.1" fill="#e8401c"/>
<circle cx="708.6" cy="717.1" r="11.1" fill="#c8c8c8"/>
<circle cx="708.6" cy="732.6" r="11.1" fill="#e8401c"/>
<circle cx="708.6" cy="748.0" r="11.1" fill="#c8c8c8"/>
<circle cx="708.6" cy="763.2" r="11.1" fill="#e8401c"/>
<circle cx="708.6" cy="778.8" r="11.1" fill="#e8401c"/>
<circle cx="708.6" cy="809.6" r="11.1" fill="#e8401c"/>
<circle cx="708.6" cy="824.7" r="11.1" fill="#e8401c"/>
<circle cx="708.6" cy="840.5" r="11.1" fill="#e8401c"/>
<circle cx="708.6" cy="855.7" r="11.1" fill="#e8401c"/>
<circle cx="708.6" cy="870.8" r="11.1" fill="#e8401c"/>
<circle cx="708.6" cy="886.6" r="11.1" fill="#3b6fa6"/>
<circle cx="708.6" cy="902.4" r="11.1" fill="#c8c8c8"/>
<circle cx="708.6" cy="917.4" r="11.1" fill="#e8401c"/>
<circle cx="708.6" cy="933.0" r="11.1" fill="#e8401c"/>
<circle cx="708.6" cy="948.2" r="11.1" fill="#e8401c"/>
<circle cx="708.6" cy="963.3" r="11.1" fill="#c8c8c8"/>
<circle cx="708.6" cy="979.1" r="11.1" fill="#e8401c"/>
<circle cx="708.6" cy="994.2" r="11.1" fill="#e8401c"/>
<circle cx="708.6" cy="1010.0" r="11.1" fill="#c8c8c8"/>
<circle cx="708.6" cy="1027.1" r="11.1" fill="#e8401c"/>
<line x1="640.0" y1="791.0" x2="676.0" y2="549.6" stroke="#2ca42c" stroke-width="0.95"/>
<line x1="640.0" y1="791.0" x2="676.0" y2="564.7" stroke="#c8c8c8" stroke-width="0.75"/>
<line x1="640.0" y1="791.5" x2="676.0" y2="580.5" stroke="#2ca42c" stroke-width="0.95"/>
<line x1="640.0" y1="791.5" x2="676.0" y2="596.3" stroke="#e8401c" stroke-width="0.95"/>
<line x1="640.0" y1="792.0" x2="676.0" y2="626.6" stroke="#c8c8c8" stroke-width="0.75"/>
<line x1="640.0" y1="792.0" x2="676.0" y2="610.8" stroke="#e8401c" stroke-width="0.95"/>
<line x1="640.0" y1="792.5" x2="676.0" y2="642.4" stroke="#e8401c" stroke-width="0.95"/>
<line x1="640.0" y1="792.5" x2="676.0" y2="657.5" stroke="#c8c8c8" stroke-width="0.75"/>
<line x1="640.0" y1="793.0" x2="676.0" y2="672.4" stroke="#e8401c" stroke-width="0.95"/>
<line x1="640.0" y1="793.0" x2="676.0" y2="687.5" stroke="#3b6fa6" stroke-width="0.95"/>
<line x1="640.0" y1="793.5" x2="676.0" y2="703.3" stroke="#e8401c" stroke-width="0.95"/>
<line x1="640.0" y1="793.5" x2="676.0" y2="718.4" stroke="#e8401c" stroke-width="0.95"/>
<line x1="640.0" y1="794.0" x2="676.0" y2="734.2" stroke="#e8401c" stroke-width="0.95"/>
<line x1="640.0" y1="794.0" x2="676.0" y2="749.3" stroke="#e8401c" stroke-width="0.95"/>
<line x1="640.0" y1="794.5" x2="676.0" y2="764.5" stroke="#e8401c" stroke-width="0.95"/>
<line x1="640.0" y1="795.0" x2="676.0" y2="779.6" stroke="#e8401c" stroke-width="0.95"/>
<line x1="640.0" y1="795.5" x2="676.0" y2="796.4" stroke="#3b6fa6" stroke-width="0.95"/>
<line x1="640.0" y1="796.0" x2="676.0" y2="812.9" stroke="#e8401c" stroke-width="0.95"/>
<line x1="640.0" y1="797.0" x2="676.0" y2="843.8" stroke="#e8401c" stroke-width="0.95"/>
<line x1="640.0" y1="797.5" x2="676.0" y2="857.6" stroke="#e8401c" stroke-width="0.95"/>
<line x1="640.0" y1="798.0" x2="676.0" y2="874.7" stroke="#c8c8c8" stroke-width="0.75"/>
<line x1="640.0" y1="798.0" x2="676.0" y2="889.9" stroke="#c8c8c8" stroke-width="0.75"/>
<line x1="640.0" y1="798.5" x2="676.0" y2="905.0" stroke="#2ca42c" stroke-width="0.95"/>
<line x1="640.0" y1="798.5" x2="676.0" y2="919.3" stroke="#e8401c" stroke-width="0.95"/>
<line x1="640.0" y1="799.0" x2="676.0" y2="936.5" stroke="#c8c8c8" stroke-width="0.75"/>
<line x1="640.0" y1="799.0" x2="676.0" y2="951.5" stroke="#c8c8c8" stroke-width="0.75"/>
<line x1="640.0" y1="799.5" x2="676.0" y2="967.0" stroke="#c8c8c8" stroke-width="0.75"/>
<line x1="640.0" y1="799.5" x2="676.0" y2="982.4" stroke="#e8401c" stroke-width="0.95"/>
<line x1="640.0" y1="800.0" x2="676.0" y2="997.5" stroke="#3b6fa6" stroke-width="0.95"/>
<line x1="640.0" y1="800.0" x2="676.0" y2="1013.3" stroke="#e8401c" stroke-width="0.95"/>
<line x1="640.0" y1="791.0" x2="700.3" y2="562.1" stroke="#e8401c" stroke-width="0.95"/>
<line x1="640.0" y1="791.5" x2="700.3" y2="577.2" stroke="#e8401c" stroke-width="0.95"/>
<line x1="640.0" y1="791.5" x2="700.3" y2="593.0" stroke="#c8c8c8" stroke-width="0.75"/>
<line x1="640.0" y1="792.0" x2="700.3" y2="608.2" stroke="#e8401c" stroke-width="0.95"/>
<line x1="640.0" y1="792.0" x2="700.3" y2="623.9" stroke="#3b6fa6" stroke-width="0.95"/>
<line x1="640.0" y1="792.5" x2="700.3" y2="639.1" stroke="#c8c8c8" stroke-width="0.75"/>
<line x1="640.0" y1="792.5" x2="700.3" y2="655.7" stroke="#e8401c" stroke-width="0.95"/>
<line x1="640.0" y1="793.0" x2="700.3" y2="671.0" stroke="#e8401c" stroke-width="0.95"/>
<line x1="640.0" y1="793.5" x2="700.3" y2="686.6" stroke="#3b6fa6" stroke-width="0.95"/>
<line x1="640.0" y1="793.5" x2="700.3" y2="702.0" stroke="#e8401c" stroke-width="0.95"/>
<line x1="640.0" y1="794.0" x2="700.3" y2="717.1" stroke="#c8c8c8" stroke-width="0.75"/>
<line x1="640.0" y1="794.0" x2="700.3" y2="732.6" stroke="#e8401c" stroke-width="0.95"/>
<line x1="640.0" y1="794.5" x2="700.3" y2="748.0" stroke="#c8c8c8" stroke-width="0.75"/>
<line x1="640.0" y1="795.0" x2="700.3" y2="763.2" stroke="#e8401c" stroke-width="0.95"/>
<line x1="640.0" y1="795.5" x2="700.3" y2="778.8" stroke="#e8401c" stroke-width="0.95"/>
<line x1="640.0" y1="796.5" x2="700.3" y2="809.6" stroke="#e8401c" stroke-width="0.95"/>
<line x1="640.0" y1="797.0" x2="700.3" y2="824.7" stroke="#e8401c" stroke-width="0.95"/>
<line x1="640.0" y1="797.0" x2="700.3" y2="840.5" stroke="#e8401c" stroke-width="0.95"/>
<line x1="640.0" y1="797.5" x2="700.3" y2="855.7" stroke="#e8401c" stroke-width="0.95"/>
<line x1="640.0" y1="798.0" x2="700.3" y2="870.8" stroke="#e8401c" stroke-width="0.95"/>
<line x1="640.0" y1="798.0" x2="700.3" y2="886.6" stroke="#3b6fa6" stroke-width="0.95"/>
<line x1="640.0" y1="798.5" x2="700.3" y2="902.4" stroke="#c8c8c8" stroke-width="0.75"/>
<line x1="640.0" y1="798.5" x2="700.3" y2="917.4" stroke="#e8401c" stroke-width="0.95"/>
<line x1="640.0" y1="799.0" x2="700.3" y2="933.0" stroke="#e8401c" stroke-width="0.95"/>
<line x1="640.0" y1="799.0" x2="700.3" y2="948.2" stroke="#e8401c" stroke-width="0.95"/>
<line x1="640.0" y1="799.5" x2="700.3" y2="963.3" stroke="#c8c8c8" stroke-width="0.75"/>
<line x1="640.0" y1="799.5" x2="700.3" y2="979.1" stroke="#e8401c" stroke-width="0.95"/>
<line x1="640.0" y1="800.0" x2="700.3" y2="994.2" stroke="#e8401c" stroke-width="0.95"/>
<line x1="640.0" y1="800.0" x2="700.3" y2="1010.0" stroke="#c8c8c8" stroke-width="0.75"/>
<line x1="640.0" y1="800.5" x2="700.3" y2="1027.1" stroke="#e8401c" stroke-width="0.95"/>
<circle cx="660.0" cy="626.8" r="11.1" fill="#c8c8c8"/>
<circle cx="660.0" cy="643.0" r="11.1" fill="#c8c8c8"/>
<circle cx="772.5" cy="103.5" r="9.7" fill="#e8401c"/>
<circle cx="772.5" cy="137.6" r="9.7" fill="#2ca42c"/>
<circle cx="772.5" cy="170.4" r="9.7" fill="#3b6fa6"/>
<circle cx="772.5" cy="204.0" r="9.7" fill="#c8c8c8"/>
<rect x="767" y="287.2" width="169" height="33.8" fill="url(#gd)"/>
<g font-family="Liberation Sans, sans-serif" fill="#000"><text transform="translate(-1.30,939.0) scale(1,1.035)" x="0" y="0" font-size="30.3">07A</text>
<text transform="translate(123.20,939.0) scale(1,1.035)" x="0" y="0" font-size="30.3">07B</text>
<text transform="translate(241.80,939.0) scale(1,1.035)" x="0" y="0" font-size="30.3">07C</text>
<text transform="translate(352.90,939.0) scale(1,1.035)" x="0" y="0" font-size="30.3">07D</text>
<text transform="translate(476.30,939.0) scale(1,1.035)" x="0" y="0" font-size="30.3">07E</text>
<text transform="translate(594.30,939.0) scale(1,1.035)" x="0" y="0" font-size="30.3">07F</text>
<text x="762.80" y="80.60" font-size="29.90">Orthologous group</text>
<text x="799.10" y="112.80" font-size="28.20">chr07OG0000007-s1</text>
<text x="799.10" y="146.30" font-size="28.20">chr07OG0000005-s1</text>
<text x="799.10" y="179.80" font-size="28.20">chr07OG0000023-s1</text>
<text x="799.10" y="212.80" font-size="28.20">other TIR-NBS-LRR</text>
<text x="767.10" y="278.10" font-size="26.36">Gene density</text>
<text x="767.40" y="346.80" font-size="25.20">0</text>
<text x="879.90" y="346.90" font-size="25.77">100%</text></g></svg>
</body></html>
